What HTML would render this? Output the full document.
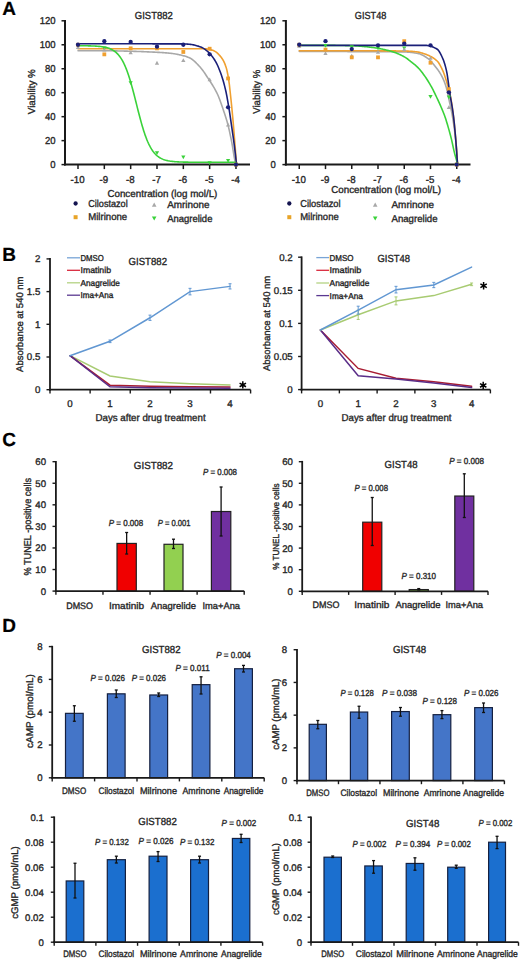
<!DOCTYPE html>
<html><head><meta charset="utf-8"><style>
html,body{margin:0;padding:0;background:#fff;}
svg{display:block;font-family:"Liberation Sans", sans-serif;}
text{stroke:#2a2a2a;stroke-width:0.35px;text-rendering:geometricPrecision;}
</style></head><body>
<svg width="520" height="960" viewBox="0 0 520 960" fill="#222">
<rect width="520" height="960" fill="#fff"/>
<text x="2.2" y="15.3" font-size="19" font-weight="bold" fill="#000" style="stroke:#000;stroke-width:0.2px">A</text>
<text x="2.2" y="260.6" font-size="19" font-weight="bold" fill="#000" style="stroke:#000;stroke-width:0.2px">B</text>
<text x="2.2" y="446.3" font-size="19" font-weight="bold" fill="#000" style="stroke:#000;stroke-width:0.2px">C</text>
<text x="2.2" y="631.8" font-size="19" font-weight="bold" fill="#000" style="stroke:#000;stroke-width:0.2px">D</text>
<line x1="65.00" y1="20.00" x2="65.00" y2="165.60" stroke="#1a1a1a" stroke-width="2" stroke-linecap="butt"/>
<line x1="61.50" y1="164.60" x2="65.00" y2="164.60" stroke="#1a1a1a" stroke-width="1.5" stroke-linecap="butt"/>
<text x="55.50" y="168.15" font-size="10.0" text-anchor="end" textLength="5.28" lengthAdjust="spacingAndGlyphs">0</text>
<line x1="61.50" y1="140.63" x2="65.00" y2="140.63" stroke="#1a1a1a" stroke-width="1.5" stroke-linecap="butt"/>
<text x="55.50" y="144.18" font-size="10.0" text-anchor="end" textLength="10.57" lengthAdjust="spacingAndGlyphs">20</text>
<line x1="61.50" y1="116.67" x2="65.00" y2="116.67" stroke="#1a1a1a" stroke-width="1.5" stroke-linecap="butt"/>
<text x="55.50" y="120.22" font-size="10.0" text-anchor="end" textLength="10.57" lengthAdjust="spacingAndGlyphs">40</text>
<line x1="61.50" y1="92.70" x2="65.00" y2="92.70" stroke="#1a1a1a" stroke-width="1.5" stroke-linecap="butt"/>
<text x="55.50" y="96.25" font-size="10.0" text-anchor="end" textLength="10.57" lengthAdjust="spacingAndGlyphs">60</text>
<line x1="61.50" y1="68.74" x2="65.00" y2="68.74" stroke="#1a1a1a" stroke-width="1.5" stroke-linecap="butt"/>
<text x="55.50" y="72.29" font-size="10.0" text-anchor="end" textLength="10.57" lengthAdjust="spacingAndGlyphs">80</text>
<line x1="61.50" y1="44.77" x2="65.00" y2="44.77" stroke="#1a1a1a" stroke-width="1.5" stroke-linecap="butt"/>
<text x="55.50" y="48.32" font-size="10.0" text-anchor="end" textLength="15.85" lengthAdjust="spacingAndGlyphs">100</text>
<line x1="61.50" y1="20.80" x2="65.00" y2="20.80" stroke="#1a1a1a" stroke-width="1.5" stroke-linecap="butt"/>
<text x="55.50" y="24.35" font-size="10.0" text-anchor="end" textLength="15.85" lengthAdjust="spacingAndGlyphs">120</text>
<line x1="64.00" y1="164.60" x2="250.00" y2="164.60" stroke="#1a1a1a" stroke-width="2" stroke-linecap="butt"/>
<line x1="78.00" y1="164.60" x2="78.00" y2="169.10" stroke="#1a1a1a" stroke-width="1.5" stroke-linecap="butt"/>
<text x="77.60" y="183.30" font-size="10.0" text-anchor="middle" textLength="14.02" lengthAdjust="spacingAndGlyphs">-10</text>
<line x1="104.33" y1="164.60" x2="104.33" y2="169.10" stroke="#1a1a1a" stroke-width="1.5" stroke-linecap="butt"/>
<text x="103.93" y="183.30" font-size="10.0" text-anchor="middle" textLength="8.62" lengthAdjust="spacingAndGlyphs">-9</text>
<line x1="130.66" y1="164.60" x2="130.66" y2="169.10" stroke="#1a1a1a" stroke-width="1.5" stroke-linecap="butt"/>
<text x="130.26" y="183.30" font-size="10.0" text-anchor="middle" textLength="8.62" lengthAdjust="spacingAndGlyphs">-8</text>
<line x1="156.99" y1="164.60" x2="156.99" y2="169.10" stroke="#1a1a1a" stroke-width="1.5" stroke-linecap="butt"/>
<text x="156.59" y="183.30" font-size="10.0" text-anchor="middle" textLength="8.62" lengthAdjust="spacingAndGlyphs">-7</text>
<line x1="183.32" y1="164.60" x2="183.32" y2="169.10" stroke="#1a1a1a" stroke-width="1.5" stroke-linecap="butt"/>
<text x="182.92" y="183.30" font-size="10.0" text-anchor="middle" textLength="8.62" lengthAdjust="spacingAndGlyphs">-6</text>
<line x1="209.65" y1="164.60" x2="209.65" y2="169.10" stroke="#1a1a1a" stroke-width="1.5" stroke-linecap="butt"/>
<text x="209.25" y="183.30" font-size="10.0" text-anchor="middle" textLength="8.62" lengthAdjust="spacingAndGlyphs">-5</text>
<line x1="235.98" y1="164.60" x2="235.98" y2="169.10" stroke="#1a1a1a" stroke-width="1.5" stroke-linecap="butt"/>
<text x="235.58" y="183.30" font-size="10.0" text-anchor="middle" textLength="8.62" lengthAdjust="spacingAndGlyphs">-4</text>
<text x="134.80" y="18.50" font-size="10.3" textLength="38.00" lengthAdjust="spacingAndGlyphs">GIST882</text>
<text x="107.40" y="196.80" font-size="10" textLength="110.00" lengthAdjust="spacingAndGlyphs">Concentration (log mol/L)</text>
<text x="34.60" y="91.70" font-size="10" text-anchor="middle" textLength="45.00" lengthAdjust="spacingAndGlyphs" transform="rotate(-90 34.60 91.70)">Viability %</text>
<polyline points="78.00,50.76 78.80,50.76 79.59,50.76 80.39,50.76 81.19,50.76 81.98,50.76 82.78,50.76 83.58,50.76 84.37,50.76 85.17,50.76 85.97,50.76 86.76,50.76 87.56,50.76 88.35,50.76 89.15,50.76 89.95,50.76 90.74,50.76 91.54,50.76 92.34,50.76 93.13,50.76 93.93,50.76 94.73,50.76 95.52,50.76 96.32,50.76 97.12,50.76 97.91,50.76 98.71,50.76 99.51,50.76 100.30,50.76 101.10,50.76 101.90,50.76 102.69,50.76 103.49,50.76 104.29,50.76 105.08,50.76 105.88,50.76 106.67,50.77 107.47,50.77 108.27,50.78 109.06,50.79 109.86,50.79 110.66,50.80 111.45,50.81 112.25,50.82 113.05,50.84 113.84,50.85 114.64,50.86 115.44,50.88 116.23,50.89 117.03,50.91 117.83,50.93 118.62,50.94 119.42,50.96 120.22,50.98 121.01,51.00 121.81,51.02 122.60,51.04 123.40,51.06 124.20,51.08 124.99,51.10 125.79,51.12 126.59,51.14 127.38,51.16 128.18,51.18 128.98,51.20 129.77,51.22 130.57,51.24 131.37,51.26 132.16,51.28 132.96,51.30 133.76,51.33 134.55,51.35 135.35,51.37 136.15,51.40 136.94,51.43 137.74,51.45 138.54,51.48 139.33,51.51 140.13,51.54 140.92,51.57 141.72,51.60 142.52,51.63 143.31,51.67 144.11,51.70 144.91,51.73 145.70,51.77 146.50,51.80 147.30,51.84 148.09,51.87 148.89,51.91 149.69,51.94 150.48,51.98 151.28,52.02 152.08,52.06 152.87,52.09 153.67,52.13 154.47,52.17 155.26,52.21 156.06,52.25 156.86,52.29 157.65,52.33 158.45,52.37 159.24,52.42 160.04,52.46 160.84,52.51 161.63,52.56 162.43,52.61 163.23,52.67 164.02,52.72 164.82,52.78 165.62,52.84 166.41,52.91 167.21,52.98 168.01,53.05 168.80,53.12 169.60,53.20 170.40,53.28 171.19,53.37 171.99,53.47 172.79,53.57 173.58,53.68 174.38,53.80 175.17,53.93 175.97,54.06 176.77,54.20 177.56,54.35 178.36,54.51 179.16,54.68 179.95,54.85 180.75,55.04 181.55,55.23 182.34,55.44 183.14,55.65 183.94,55.87 184.73,56.10 185.53,56.35 186.33,56.60 187.12,56.87 187.92,57.14 188.72,57.43 189.51,57.78 190.31,58.20 191.11,58.68 191.90,59.23 192.70,59.83 193.49,60.48 194.29,61.18 195.09,61.91 195.88,62.68 196.68,63.48 197.48,64.29 198.27,65.12 199.07,65.96 199.87,66.81 200.66,67.69 201.46,68.65 202.26,69.68 203.05,70.76 203.85,71.90 204.65,73.07 205.44,74.27 206.24,75.49 207.04,76.71 207.83,77.92 208.63,79.12 209.43,80.32 210.22,81.53 211.02,82.74 211.81,83.98 212.61,85.25 213.41,86.56 214.20,87.92 215.00,89.33 215.80,90.81 216.59,92.36 217.39,94.00 218.19,95.78 218.98,97.72 219.78,99.79 220.58,101.97 221.37,104.22 222.17,106.51 222.97,108.83 223.76,111.16 224.56,113.51 225.36,115.93 226.15,118.46 226.95,121.14 227.74,124.01 228.54,127.15 229.34,130.62 230.13,134.34 230.93,138.21 231.73,142.15 232.52,146.64 233.32,151.68 234.12,156.58 234.91,160.66 235.71,163.27 236.51,164.60" fill="none" stroke="#a8a8a8" stroke-width="1.6" stroke-linejoin="round" stroke-linecap="round"/>
<polyline points="78.00,48.72 78.80,48.72 79.59,48.72 80.39,48.72 81.19,48.72 81.98,48.72 82.78,48.72 83.58,48.72 84.37,48.72 85.17,48.72 85.97,48.72 86.76,48.72 87.56,48.72 88.35,48.72 89.15,48.72 89.95,48.72 90.74,48.72 91.54,48.72 92.34,48.72 93.13,48.72 93.93,48.72 94.73,48.72 95.52,48.72 96.32,48.72 97.12,48.72 97.91,48.72 98.71,48.72 99.51,48.72 100.30,48.72 101.10,48.72 101.90,48.72 102.69,48.72 103.49,48.72 104.29,48.72 105.08,48.72 105.88,48.72 106.67,48.72 107.47,48.72 108.27,48.72 109.06,48.72 109.86,48.72 110.66,48.72 111.45,48.72 112.25,48.72 113.05,48.72 113.84,48.72 114.64,48.72 115.44,48.72 116.23,48.72 117.03,48.72 117.83,48.72 118.62,48.72 119.42,48.72 120.22,48.72 121.01,48.72 121.81,48.72 122.60,48.72 123.40,48.72 124.20,48.72 124.99,48.72 125.79,48.72 126.59,48.72 127.38,48.72 128.18,48.72 128.98,48.72 129.77,48.72 130.57,48.72 131.37,48.72 132.16,48.72 132.96,48.72 133.76,48.72 134.55,48.72 135.35,48.72 136.15,48.72 136.94,48.72 137.74,48.72 138.54,48.72 139.33,48.72 140.13,48.72 140.92,48.72 141.72,48.72 142.52,48.72 143.31,48.72 144.11,48.72 144.91,48.72 145.70,48.72 146.50,48.72 147.30,48.72 148.09,48.72 148.89,48.72 149.69,48.72 150.48,48.72 151.28,48.72 152.08,48.72 152.87,48.72 153.67,48.72 154.47,48.72 155.26,48.72 156.06,48.72 156.86,48.72 157.65,48.72 158.45,48.72 159.24,48.72 160.04,48.72 160.84,48.72 161.63,48.72 162.43,48.72 163.23,48.72 164.02,48.72 164.82,48.72 165.62,48.72 166.41,48.72 167.21,48.72 168.01,48.72 168.80,48.72 169.60,48.72 170.40,48.72 171.19,48.72 171.99,48.72 172.79,48.72 173.58,48.72 174.38,48.72 175.17,48.72 175.97,48.72 176.77,48.72 177.56,48.72 178.36,48.72 179.16,48.72 179.95,48.72 180.75,48.72 181.55,48.72 182.34,48.72 183.14,48.72 183.94,48.72 184.73,48.72 185.53,48.72 186.33,48.72 187.12,48.72 187.92,48.72 188.72,48.72 189.51,48.72 190.31,48.72 191.11,48.72 191.90,48.72 192.70,48.72 193.49,48.72 194.29,48.72 195.09,48.72 195.88,48.72 196.68,48.72 197.48,48.72 198.27,48.72 199.07,48.72 199.87,48.72 200.66,48.72 201.46,48.72 202.26,48.72 203.05,48.72 203.85,48.72 204.65,48.74 205.44,48.79 206.24,48.88 207.04,48.98 207.83,49.12 208.63,49.28 209.43,49.46 210.22,49.66 211.02,49.88 211.81,50.11 212.61,50.36 213.41,50.61 214.20,50.92 215.00,51.34 215.80,51.85 216.59,52.46 217.39,53.14 218.19,53.91 218.98,54.74 219.78,55.63 220.58,56.57 221.37,57.56 222.17,58.67 222.97,59.96 223.76,61.45 224.56,63.17 225.36,65.14 226.15,67.40 226.95,70.40 227.74,74.26 228.54,78.81 229.34,84.34 230.13,91.47 230.93,99.03 231.73,106.80 232.52,115.11 233.32,124.15 234.12,133.87 234.91,143.84 235.71,154.06 236.51,164.60" fill="none" stroke="#f0a030" stroke-width="1.6" stroke-linejoin="round" stroke-linecap="round"/>
<polyline points="78.00,43.81 78.80,43.81 79.59,43.81 80.39,43.81 81.19,43.81 81.98,43.81 82.78,43.81 83.58,43.81 84.37,43.81 85.17,43.81 85.97,43.81 86.76,43.81 87.56,43.81 88.35,43.81 89.15,43.81 89.95,43.81 90.74,43.81 91.54,43.81 92.34,43.81 93.13,43.81 93.93,43.81 94.73,43.81 95.52,43.81 96.32,43.81 97.12,43.81 97.91,43.81 98.71,43.81 99.51,43.81 100.30,43.81 101.10,43.81 101.90,43.81 102.69,43.81 103.49,43.81 104.29,43.81 105.08,43.81 105.88,43.81 106.67,43.81 107.47,43.81 108.27,43.81 109.06,43.81 109.86,43.81 110.66,43.81 111.45,43.81 112.25,43.81 113.05,43.81 113.84,43.81 114.64,43.81 115.44,43.81 116.23,43.81 117.03,43.81 117.83,43.81 118.62,43.81 119.42,43.81 120.22,43.81 121.01,43.81 121.81,43.81 122.60,43.81 123.40,43.81 124.20,43.81 124.99,43.81 125.79,43.81 126.59,43.81 127.38,43.81 128.18,43.81 128.98,43.81 129.77,43.81 130.57,43.81 131.37,43.81 132.16,43.81 132.96,43.81 133.76,43.81 134.55,43.81 135.35,43.81 136.15,43.81 136.94,43.81 137.74,43.81 138.54,43.81 139.33,43.81 140.13,43.81 140.92,43.81 141.72,43.81 142.52,43.81 143.31,43.82 144.11,43.82 144.91,43.82 145.70,43.82 146.50,43.82 147.30,43.82 148.09,43.82 148.89,43.82 149.69,43.82 150.48,43.82 151.28,43.82 152.08,43.82 152.87,43.83 153.67,43.83 154.47,43.83 155.26,43.83 156.06,43.83 156.86,43.83 157.65,43.83 158.45,43.84 159.24,43.84 160.04,43.84 160.84,43.84 161.63,43.84 162.43,43.85 163.23,43.85 164.02,43.85 164.82,43.85 165.62,43.85 166.41,43.86 167.21,43.86 168.01,43.86 168.80,43.86 169.60,43.87 170.40,43.87 171.19,43.87 171.99,43.88 172.79,43.88 173.58,43.88 174.38,43.89 175.17,43.89 175.97,43.89 176.77,43.90 177.56,43.90 178.36,43.90 179.16,43.91 179.95,43.91 180.75,43.92 181.55,43.92 182.34,43.93 183.14,43.93 183.94,43.94 184.73,43.96 185.53,43.99 186.33,44.03 187.12,44.08 187.92,44.13 188.72,44.19 189.51,44.26 190.31,44.35 191.11,44.46 191.90,44.58 192.70,44.73 193.49,44.89 194.29,45.06 195.09,45.25 195.88,45.45 196.68,45.67 197.48,45.90 198.27,46.14 199.07,46.39 199.87,46.65 200.66,46.93 201.46,47.28 202.26,47.67 203.05,48.12 203.85,48.61 204.65,49.14 205.44,49.70 206.24,50.30 207.04,50.93 207.83,51.59 208.63,52.30 209.43,53.09 210.22,53.96 211.02,54.89 211.81,55.89 212.61,56.96 213.41,58.09 214.20,59.29 215.00,60.55 215.80,61.88 216.59,63.37 217.39,65.00 218.19,66.78 218.98,68.69 219.78,70.71 220.58,72.84 221.37,75.08 222.17,77.46 222.97,80.05 223.76,82.84 224.56,85.84 225.36,89.07 226.15,92.55 226.95,96.56 227.74,101.05 228.54,105.81 229.34,110.70 230.13,115.88 230.93,121.27 231.73,126.77 232.52,132.28 233.32,137.91 234.12,143.82 234.91,150.19 235.71,157.16 236.51,164.60" fill="none" stroke="#1a1f78" stroke-width="1.6" stroke-linejoin="round" stroke-linecap="round"/>
<polyline points="78.00,45.72 78.79,45.72 79.58,45.73 80.37,45.73 81.16,45.74 81.96,45.75 82.75,45.76 83.54,45.76 84.33,45.77 85.12,45.78 85.91,45.80 86.70,45.81 87.49,45.82 88.29,45.84 89.08,45.86 89.87,45.88 90.66,45.90 91.45,45.93 92.24,45.96 93.03,45.99 93.82,46.02 94.62,46.06 95.41,46.11 96.20,46.15 96.99,46.21 97.78,46.27 98.57,46.34 99.36,46.41 100.15,46.49 100.95,46.58 101.74,46.69 102.53,46.80 103.32,46.93 104.11,47.07 104.90,47.23 105.69,47.40 106.48,47.59 107.28,47.81 108.07,48.04 108.86,48.31 109.65,48.60 110.44,48.93 111.23,49.29 112.02,49.68 112.81,50.12 113.61,50.61 114.40,51.14 115.19,51.74 115.98,52.39 116.77,53.11 117.56,53.90 118.35,54.76 119.14,55.71 119.93,56.74 120.73,57.87 121.52,59.11 122.31,60.44 123.10,61.90 123.89,63.47 124.68,65.16 125.47,66.98 126.26,68.92 127.06,71.01 127.85,73.21 128.64,75.55 129.43,78.02 130.22,80.60 131.01,83.31 131.80,86.11 132.59,89.01 133.39,92.00 134.18,95.04 134.97,98.15 135.76,101.28 136.55,104.43 137.34,107.58 138.13,110.70 138.92,113.79 139.72,116.82 140.51,119.78 141.30,122.66 142.09,125.43 142.88,128.10 143.67,130.66 144.46,133.08 145.25,135.39 146.05,137.56 146.84,139.60 147.63,141.51 148.42,143.29 149.21,144.95 150.00,146.48 150.79,147.90 151.58,149.21 152.37,150.41 153.17,151.52 153.96,152.52 154.75,153.45 155.54,154.29 156.33,155.06 157.12,155.76 157.91,156.39 158.70,156.97 159.50,157.49 160.29,157.96 161.08,158.39 161.87,158.77 162.66,159.12 163.45,159.44 164.24,159.72 165.03,159.98 165.83,160.21 166.62,160.42 167.41,160.60 168.20,160.77 168.99,160.92 169.78,161.06 170.57,161.18 171.36,161.29 172.16,161.39 172.95,161.48 173.74,161.56 174.53,161.64 175.32,161.70 176.11,161.76 176.90,161.81 177.69,161.86 178.49,161.90 179.28,161.94 180.07,161.97 180.86,162.00 181.65,162.03 182.44,162.06 183.23,162.08 184.02,162.10 184.82,162.12 185.61,162.13 186.40,162.15 187.19,162.16 187.98,162.17 188.77,162.18 189.56,162.19 190.35,162.20 191.14,162.21 191.94,162.21 192.73,162.22 193.52,162.22 194.31,162.23 195.10,162.23 195.89,162.24 196.68,162.24 197.47,162.24 198.27,162.25 199.06,162.25 199.85,162.25 200.64,162.25 201.43,162.26 202.22,162.26 203.01,162.26 203.80,162.26 204.60,162.26 205.39,162.26 206.18,162.26 206.97,162.26 207.76,162.26 208.55,162.27 209.34,162.27 210.13,162.27 210.93,162.27 211.72,162.27 212.51,162.27 213.30,162.27 214.09,162.27 214.88,162.27 215.67,162.27 216.46,162.27 217.26,162.27 218.05,162.27 218.84,162.27 219.63,162.27 220.42,162.27 221.21,162.27 222.00,162.27 222.79,162.27 223.59,162.27 224.38,162.27 225.17,162.27 225.96,162.27 226.75,162.27 227.54,162.27 228.33,162.27 229.12,162.27 229.91,162.27 230.71,162.27 231.50,162.27 232.29,162.27 233.08,162.27 233.87,162.27 234.66,162.27 235.45,162.27" fill="none" stroke="#3ad23a" stroke-width="1.6" stroke-linejoin="round" stroke-linecap="round"/>
<polygon points="75.90,44.08 80.10,44.08 78.00,47.86" fill="#3ad23a"/>
<polygon points="102.23,46.47 106.43,46.47 104.33,50.25" fill="#3ad23a"/>
<polygon points="128.56,81.23 132.76,81.23 130.66,85.01" fill="#3ad23a"/>
<polygon points="154.89,151.33 159.09,151.33 156.99,155.11" fill="#3ad23a"/>
<polygon points="181.22,155.40 185.42,155.40 183.32,159.18" fill="#3ad23a"/>
<polygon points="207.55,161.15 211.75,161.15 209.65,164.93" fill="#3ad23a"/>
<polygon points="225.98,158.88 230.18,158.88 228.08,162.66" fill="#3ad23a"/>
<polygon points="233.88,162.71 238.08,162.71 235.98,166.49" fill="#3ad23a"/>
<polygon points="75.90,49.06 80.10,49.06 78.00,45.28" fill="#a8a8a8"/>
<polygon points="102.23,51.45 106.43,51.45 104.33,47.67" fill="#a8a8a8"/>
<polygon points="128.56,54.21 132.76,54.21 130.66,50.43" fill="#a8a8a8"/>
<polygon points="154.89,64.63 159.09,64.63 156.99,60.85" fill="#a8a8a8"/>
<polygon points="181.22,62.12 185.42,62.12 183.32,58.34" fill="#a8a8a8"/>
<polygon points="207.55,81.29 211.75,81.29 209.65,77.51" fill="#a8a8a8"/>
<polygon points="225.98,126.47 230.18,126.47 228.08,122.69" fill="#a8a8a8"/>
<polygon points="233.88,166.49 238.08,166.49 235.98,162.71" fill="#a8a8a8"/>
<rect x="76.10" y="42.87" width="3.80" height="3.80" fill="#f0a030"/>
<rect x="102.43" y="52.46" width="3.80" height="3.80" fill="#f0a030"/>
<rect x="128.76" y="46.46" width="3.80" height="3.80" fill="#f0a030"/>
<rect x="155.09" y="46.46" width="3.80" height="3.80" fill="#f0a030"/>
<rect x="181.42" y="50.06" width="3.80" height="3.80" fill="#f0a030"/>
<rect x="207.75" y="46.82" width="3.80" height="3.80" fill="#f0a030"/>
<rect x="226.18" y="76.54" width="3.80" height="3.80" fill="#f0a030"/>
<rect x="234.08" y="162.70" width="3.80" height="3.80" fill="#f0a030"/>
<circle cx="78.00" cy="44.77" r="2.15" fill="#1a1f78"/>
<circle cx="104.33" cy="41.18" r="2.15" fill="#1a1f78"/>
<circle cx="130.66" cy="41.89" r="2.15" fill="#1a1f78"/>
<circle cx="156.99" cy="46.69" r="2.15" fill="#1a1f78"/>
<circle cx="183.32" cy="44.77" r="2.15" fill="#1a1f78"/>
<circle cx="209.65" cy="54.36" r="2.15" fill="#1a1f78"/>
<circle cx="228.08" cy="107.32" r="2.15" fill="#1a1f78"/>
<circle cx="235.98" cy="164.60" r="2.15" fill="#1a1f78"/>
<circle cx="75.60" cy="203.50" r="2.15" fill="#141450"/>
<text x="88.20" y="207.20" font-size="10" textLength="39.50" lengthAdjust="spacingAndGlyphs">Cilostazol</text>
<rect x="73.60" y="215.20" width="4.00" height="4.00" fill="#e8a428"/>
<text x="88.20" y="220.10" font-size="10" textLength="39.00" lengthAdjust="spacingAndGlyphs">Milrinone</text>
<polygon points="151.90,206.67 156.50,206.67 154.20,202.53" fill="#a8a8a8"/>
<text x="167.20" y="208.20" font-size="10" textLength="42.40" lengthAdjust="spacingAndGlyphs">Amrinone</text>
<polygon points="151.90,216.43 156.50,216.43 154.20,220.57" fill="#3ad23a"/>
<text x="167.20" y="222.10" font-size="10" textLength="45.20" lengthAdjust="spacingAndGlyphs">Anagrelide</text>
<line x1="285.90" y1="20.00" x2="285.90" y2="165.60" stroke="#1a1a1a" stroke-width="2" stroke-linecap="butt"/>
<line x1="282.40" y1="164.60" x2="285.90" y2="164.60" stroke="#1a1a1a" stroke-width="1.5" stroke-linecap="butt"/>
<text x="275.90" y="168.15" font-size="10.0" text-anchor="end" textLength="5.28" lengthAdjust="spacingAndGlyphs">0</text>
<line x1="282.40" y1="140.63" x2="285.90" y2="140.63" stroke="#1a1a1a" stroke-width="1.5" stroke-linecap="butt"/>
<text x="275.90" y="144.18" font-size="10.0" text-anchor="end" textLength="10.57" lengthAdjust="spacingAndGlyphs">20</text>
<line x1="282.40" y1="116.67" x2="285.90" y2="116.67" stroke="#1a1a1a" stroke-width="1.5" stroke-linecap="butt"/>
<text x="275.90" y="120.22" font-size="10.0" text-anchor="end" textLength="10.57" lengthAdjust="spacingAndGlyphs">40</text>
<line x1="282.40" y1="92.70" x2="285.90" y2="92.70" stroke="#1a1a1a" stroke-width="1.5" stroke-linecap="butt"/>
<text x="275.90" y="96.25" font-size="10.0" text-anchor="end" textLength="10.57" lengthAdjust="spacingAndGlyphs">60</text>
<line x1="282.40" y1="68.74" x2="285.90" y2="68.74" stroke="#1a1a1a" stroke-width="1.5" stroke-linecap="butt"/>
<text x="275.90" y="72.29" font-size="10.0" text-anchor="end" textLength="10.57" lengthAdjust="spacingAndGlyphs">80</text>
<line x1="282.40" y1="44.77" x2="285.90" y2="44.77" stroke="#1a1a1a" stroke-width="1.5" stroke-linecap="butt"/>
<text x="275.90" y="48.32" font-size="10.0" text-anchor="end" textLength="15.85" lengthAdjust="spacingAndGlyphs">100</text>
<line x1="282.40" y1="20.80" x2="285.90" y2="20.80" stroke="#1a1a1a" stroke-width="1.5" stroke-linecap="butt"/>
<text x="275.90" y="24.35" font-size="10.0" text-anchor="end" textLength="15.85" lengthAdjust="spacingAndGlyphs">120</text>
<line x1="284.90" y1="164.60" x2="470.50" y2="164.60" stroke="#1a1a1a" stroke-width="2" stroke-linecap="butt"/>
<line x1="299.25" y1="164.60" x2="299.25" y2="169.10" stroke="#1a1a1a" stroke-width="1.5" stroke-linecap="butt"/>
<text x="298.85" y="183.30" font-size="10.0" text-anchor="middle" textLength="14.02" lengthAdjust="spacingAndGlyphs">-10</text>
<line x1="325.50" y1="164.60" x2="325.50" y2="169.10" stroke="#1a1a1a" stroke-width="1.5" stroke-linecap="butt"/>
<text x="325.10" y="183.30" font-size="10.0" text-anchor="middle" textLength="8.62" lengthAdjust="spacingAndGlyphs">-9</text>
<line x1="351.75" y1="164.60" x2="351.75" y2="169.10" stroke="#1a1a1a" stroke-width="1.5" stroke-linecap="butt"/>
<text x="351.35" y="183.30" font-size="10.0" text-anchor="middle" textLength="8.62" lengthAdjust="spacingAndGlyphs">-8</text>
<line x1="378.00" y1="164.60" x2="378.00" y2="169.10" stroke="#1a1a1a" stroke-width="1.5" stroke-linecap="butt"/>
<text x="377.60" y="183.30" font-size="10.0" text-anchor="middle" textLength="8.62" lengthAdjust="spacingAndGlyphs">-7</text>
<line x1="404.25" y1="164.60" x2="404.25" y2="169.10" stroke="#1a1a1a" stroke-width="1.5" stroke-linecap="butt"/>
<text x="403.85" y="183.30" font-size="10.0" text-anchor="middle" textLength="8.62" lengthAdjust="spacingAndGlyphs">-6</text>
<line x1="430.50" y1="164.60" x2="430.50" y2="169.10" stroke="#1a1a1a" stroke-width="1.5" stroke-linecap="butt"/>
<text x="430.10" y="183.30" font-size="10.0" text-anchor="middle" textLength="8.62" lengthAdjust="spacingAndGlyphs">-5</text>
<line x1="456.75" y1="164.60" x2="456.75" y2="169.10" stroke="#1a1a1a" stroke-width="1.5" stroke-linecap="butt"/>
<text x="456.35" y="183.30" font-size="10.0" text-anchor="middle" textLength="8.62" lengthAdjust="spacingAndGlyphs">-4</text>
<text x="354.80" y="18.50" font-size="10.3" textLength="31.50" lengthAdjust="spacingAndGlyphs">GIST48</text>
<text x="331.20" y="193.00" font-size="10" textLength="109.80" lengthAdjust="spacingAndGlyphs">Concentration (log mol/L)</text>
<text x="260.40" y="91.67" font-size="10" text-anchor="middle" textLength="44.15" lengthAdjust="spacingAndGlyphs" transform="rotate(-90 260.40 91.67)">Viability %</text>
<polyline points="299.25,51.36 300.05,51.36 300.84,51.37 301.64,51.37 302.43,51.37 303.23,51.37 304.02,51.38 304.82,51.38 305.61,51.38 306.41,51.39 307.20,51.39 308.00,51.39 308.79,51.40 309.59,51.40 310.39,51.40 311.18,51.41 311.98,51.41 312.77,51.41 313.57,51.41 314.36,51.42 315.16,51.42 315.95,51.42 316.75,51.43 317.54,51.43 318.34,51.43 319.14,51.44 319.93,51.44 320.73,51.45 321.52,51.45 322.32,51.45 323.11,51.46 323.91,51.46 324.70,51.46 325.50,51.47 326.29,51.47 327.09,51.47 327.88,51.48 328.68,51.48 329.48,51.49 330.27,51.49 331.07,51.49 331.86,51.50 332.66,51.50 333.45,51.50 334.25,51.51 335.04,51.51 335.84,51.52 336.63,51.52 337.43,51.52 338.23,51.53 339.02,51.53 339.82,51.54 340.61,51.54 341.41,51.55 342.20,51.55 343.00,51.55 343.79,51.56 344.59,51.56 345.38,51.57 346.18,51.57 346.97,51.57 347.77,51.58 348.57,51.58 349.36,51.59 350.16,51.59 350.95,51.60 351.75,51.60 352.54,51.60 353.34,51.61 354.13,51.61 354.93,51.62 355.72,51.62 356.52,51.62 357.32,51.63 358.11,51.63 358.91,51.63 359.70,51.64 360.50,51.64 361.29,51.64 362.09,51.65 362.88,51.65 363.68,51.65 364.47,51.66 365.27,51.66 366.06,51.66 366.86,51.67 367.66,51.67 368.45,51.67 369.25,51.68 370.04,51.68 370.84,51.68 371.63,51.68 372.43,51.69 373.22,51.69 374.02,51.70 374.81,51.70 375.61,51.70 376.41,51.71 377.20,51.71 378.00,51.71 378.79,51.72 379.59,51.72 380.38,51.73 381.18,51.73 381.97,51.74 382.77,51.74 383.56,51.74 384.36,51.75 385.15,51.76 385.95,51.76 386.75,51.77 387.54,51.77 388.34,51.78 389.13,51.78 389.93,51.79 390.72,51.80 391.52,51.81 392.31,51.81 393.11,51.82 393.90,51.83 394.70,51.84 395.50,51.84 396.29,51.85 397.09,51.86 397.88,51.87 398.68,51.88 399.47,51.89 400.27,51.90 401.06,51.91 401.86,51.92 402.65,51.94 403.45,51.95 404.24,51.96 405.04,51.98 405.84,52.01 406.63,52.04 407.43,52.09 408.22,52.15 409.02,52.22 409.81,52.29 410.61,52.38 411.40,52.47 412.20,52.57 412.99,52.68 413.79,52.79 414.59,52.92 415.38,53.05 416.18,53.18 416.97,53.32 417.77,53.47 418.56,53.64 419.36,53.85 420.15,54.11 420.95,54.42 421.74,54.77 422.54,55.16 423.33,55.58 424.13,56.02 424.93,56.50 425.72,57.00 426.52,57.52 427.31,58.05 428.11,58.61 428.90,59.25 429.70,59.97 430.49,60.77 431.29,61.62 432.08,62.52 432.88,63.46 433.68,64.42 434.47,65.40 435.27,66.39 436.06,67.39 436.86,68.41 437.65,69.48 438.45,70.61 439.24,71.80 440.04,73.07 440.83,74.43 441.63,75.88 442.42,77.43 443.22,79.09 444.02,80.92 444.81,82.94 445.61,85.18 446.40,87.79 447.20,91.15 447.99,94.92 448.79,98.66 449.58,102.23 450.38,105.81 451.17,109.58 451.97,113.70 452.77,118.32 453.56,123.25 454.36,128.65 455.15,134.83 455.95,142.10 456.74,151.12 457.54,164.60" fill="none" stroke="#a8a8a8" stroke-width="1.6" stroke-linejoin="round" stroke-linecap="round"/>
<polyline points="299.25,50.76 300.05,50.76 300.84,50.76 301.64,50.76 302.43,50.76 303.23,50.76 304.02,50.76 304.82,50.76 305.61,50.76 306.41,50.76 307.20,50.76 308.00,50.76 308.79,50.76 309.59,50.76 310.39,50.76 311.18,50.76 311.98,50.76 312.77,50.76 313.57,50.76 314.36,50.76 315.16,50.76 315.95,50.76 316.75,50.76 317.54,50.76 318.34,50.76 319.14,50.76 319.93,50.76 320.73,50.76 321.52,50.76 322.32,50.76 323.11,50.76 323.91,50.76 324.70,50.76 325.50,50.76 326.29,50.76 327.09,50.76 327.88,50.76 328.68,50.76 329.48,50.76 330.27,50.76 331.07,50.76 331.86,50.76 332.66,50.76 333.45,50.76 334.25,50.76 335.04,50.76 335.84,50.76 336.63,50.76 337.43,50.76 338.23,50.76 339.02,50.76 339.82,50.76 340.61,50.76 341.41,50.76 342.20,50.76 343.00,50.76 343.79,50.76 344.59,50.76 345.38,50.76 346.18,50.76 346.97,50.76 347.77,50.76 348.57,50.76 349.36,50.76 350.16,50.76 350.95,50.76 351.75,50.76 352.54,50.76 353.34,50.76 354.13,50.76 354.93,50.76 355.72,50.76 356.52,50.76 357.32,50.76 358.11,50.76 358.91,50.76 359.70,50.77 360.50,50.77 361.29,50.77 362.09,50.77 362.88,50.77 363.68,50.77 364.47,50.77 365.27,50.77 366.06,50.78 366.86,50.78 367.66,50.78 368.45,50.78 369.25,50.78 370.04,50.79 370.84,50.79 371.63,50.79 372.43,50.79 373.22,50.79 374.02,50.80 374.81,50.80 375.61,50.80 376.41,50.81 377.20,50.81 378.00,50.81 378.79,50.82 379.59,50.82 380.38,50.82 381.18,50.83 381.97,50.83 382.77,50.84 383.56,50.84 384.36,50.84 385.15,50.85 385.95,50.85 386.75,50.86 387.54,50.86 388.34,50.87 389.13,50.87 389.93,50.88 390.72,50.88 391.52,50.89 392.31,50.90 393.11,50.90 393.90,50.91 394.70,50.91 395.50,50.92 396.29,50.93 397.09,50.93 397.88,50.94 398.68,50.95 399.47,50.95 400.27,50.96 401.06,50.97 401.86,50.98 402.65,50.98 403.45,50.99 404.24,51.00 405.04,51.01 405.84,51.03 406.63,51.06 407.43,51.09 408.22,51.13 409.02,51.18 409.81,51.23 410.61,51.28 411.40,51.35 412.20,51.41 412.99,51.49 413.79,51.56 414.59,51.64 415.38,51.73 416.18,51.82 416.97,51.91 417.77,52.01 418.56,52.14 419.36,52.29 420.15,52.47 420.95,52.67 421.74,52.90 422.54,53.14 423.33,53.41 424.13,53.69 424.93,53.98 425.72,54.28 426.52,54.60 427.31,54.92 428.11,55.25 428.90,55.59 429.70,55.96 430.49,56.35 431.29,56.77 432.08,57.21 432.88,57.70 433.68,58.22 434.47,58.78 435.27,59.39 436.06,60.05 436.86,60.77 437.65,61.55 438.45,62.54 439.24,63.72 440.04,65.07 440.83,66.57 441.63,68.17 442.42,69.87 443.22,71.65 444.02,73.70 444.81,75.98 445.61,78.45 446.40,81.04 447.20,83.68 447.99,86.35 448.79,89.18 449.58,92.29 450.38,95.81 451.17,99.93 451.97,104.88 452.77,110.63 453.56,117.14 454.36,124.31 455.15,132.38 455.95,141.97 456.74,152.82 457.54,164.60" fill="none" stroke="#f0a030" stroke-width="1.6" stroke-linejoin="round" stroke-linecap="round"/>
<polyline points="299.25,45.37 300.05,45.37 300.84,45.37 301.64,45.37 302.44,45.37 303.23,45.37 304.03,45.37 304.83,45.37 305.62,45.37 306.42,45.37 307.22,45.37 308.01,45.37 308.81,45.37 309.61,45.37 310.40,45.37 311.20,45.37 312.00,45.37 312.79,45.37 313.59,45.37 314.39,45.37 315.18,45.37 315.98,45.37 316.78,45.37 317.57,45.37 318.37,45.37 319.17,45.37 319.97,45.37 320.76,45.37 321.56,45.37 322.36,45.37 323.15,45.37 323.95,45.37 324.75,45.37 325.54,45.37 326.34,45.37 327.14,45.37 327.93,45.37 328.73,45.38 329.53,45.38 330.32,45.38 331.12,45.39 331.92,45.39 332.71,45.40 333.51,45.41 334.31,45.42 335.10,45.42 335.90,45.43 336.70,45.44 337.49,45.45 338.29,45.46 339.09,45.48 339.88,45.49 340.68,45.50 341.48,45.51 342.27,45.53 343.07,45.54 343.87,45.56 344.66,45.57 345.46,45.59 346.26,45.60 347.05,45.62 347.85,45.64 348.65,45.66 349.44,45.67 350.24,45.69 351.04,45.71 351.83,45.73 352.63,45.75 353.43,45.78 354.22,45.81 355.02,45.85 355.82,45.89 356.61,45.94 357.41,45.99 358.21,46.04 359.01,46.10 359.80,46.16 360.60,46.22 361.40,46.29 362.19,46.36 362.99,46.43 363.79,46.51 364.58,46.58 365.38,46.66 366.18,46.74 366.97,46.83 367.77,46.91 368.57,47.00 369.36,47.08 370.16,47.17 370.96,47.26 371.75,47.36 372.55,47.46 373.35,47.57 374.14,47.68 374.94,47.80 375.74,47.92 376.53,48.05 377.33,48.18 378.13,48.32 378.92,48.46 379.72,48.61 380.52,48.76 381.31,48.92 382.11,49.08 382.91,49.25 383.70,49.42 384.50,49.60 385.30,49.78 386.09,49.97 386.89,50.16 387.69,50.36 388.48,50.56 389.28,50.76 390.08,50.97 390.87,51.20 391.67,51.43 392.47,51.68 393.26,51.95 394.06,52.22 394.86,52.50 395.65,52.80 396.45,53.11 397.25,53.43 398.04,53.76 398.84,54.11 399.64,54.46 400.44,54.83 401.23,55.21 402.03,55.60 402.83,56.01 403.62,56.42 404.42,56.85 405.22,57.32 406.01,57.84 406.81,58.41 407.61,59.01 408.40,59.63 409.20,60.26 410.00,60.90 410.79,61.53 411.59,62.15 412.39,62.77 413.18,63.40 413.98,64.04 414.78,64.69 415.57,65.37 416.37,66.08 417.17,66.82 417.96,67.60 418.76,68.44 419.56,69.33 420.35,70.28 421.15,71.26 421.95,72.28 422.74,73.34 423.54,74.42 424.34,75.52 425.13,76.65 425.93,77.81 426.73,79.01 427.52,80.25 428.32,81.52 429.12,82.83 429.91,84.18 430.71,85.56 431.51,86.98 432.30,88.46 433.10,89.99 433.90,91.56 434.69,93.18 435.49,94.84 436.29,96.52 437.08,98.23 437.88,99.96 438.68,101.69 439.48,103.43 440.27,105.20 441.07,106.99 441.87,108.84 442.66,110.74 443.46,112.73 444.26,114.81 445.05,116.99 445.85,119.36 446.65,121.91 447.44,124.59 448.24,127.35 449.04,130.14 449.83,133.00 450.63,135.98 451.43,139.13 452.22,142.64 453.02,146.44 453.82,150.12 454.61,153.34 455.41,156.29 456.21,159.10 457.00,161.89 457.80,164.60" fill="none" stroke="#3ad23a" stroke-width="1.6" stroke-linejoin="round" stroke-linecap="round"/>
<polyline points="299.25,45.37 300.05,45.37 300.84,45.37 301.64,45.37 302.43,45.37 303.23,45.37 304.02,45.37 304.82,45.37 305.61,45.37 306.41,45.37 307.20,45.37 308.00,45.37 308.79,45.37 309.59,45.37 310.39,45.37 311.18,45.37 311.98,45.37 312.77,45.37 313.57,45.37 314.36,45.37 315.16,45.37 315.95,45.37 316.75,45.37 317.54,45.37 318.34,45.37 319.14,45.37 319.93,45.37 320.73,45.37 321.52,45.37 322.32,45.37 323.11,45.37 323.91,45.37 324.70,45.37 325.50,45.37 326.29,45.37 327.09,45.37 327.88,45.37 328.68,45.37 329.48,45.37 330.27,45.37 331.07,45.37 331.86,45.37 332.66,45.37 333.45,45.37 334.25,45.37 335.04,45.37 335.84,45.37 336.63,45.37 337.43,45.37 338.23,45.37 339.02,45.37 339.82,45.37 340.61,45.37 341.41,45.37 342.20,45.37 343.00,45.37 343.79,45.37 344.59,45.37 345.38,45.37 346.18,45.37 346.97,45.37 347.77,45.37 348.57,45.37 349.36,45.37 350.16,45.37 350.95,45.37 351.75,45.37 352.54,45.37 353.34,45.37 354.13,45.37 354.93,45.37 355.72,45.37 356.52,45.37 357.32,45.37 358.11,45.37 358.91,45.37 359.70,45.37 360.50,45.37 361.29,45.37 362.09,45.37 362.88,45.37 363.68,45.37 364.47,45.37 365.27,45.37 366.06,45.37 366.86,45.37 367.66,45.37 368.45,45.37 369.25,45.37 370.04,45.37 370.84,45.37 371.63,45.37 372.43,45.37 373.22,45.37 374.02,45.37 374.81,45.37 375.61,45.37 376.41,45.37 377.20,45.37 378.00,45.37 378.79,45.37 379.59,45.37 380.38,45.37 381.18,45.37 381.97,45.37 382.77,45.37 383.56,45.37 384.36,45.37 385.15,45.37 385.95,45.37 386.75,45.37 387.54,45.37 388.34,45.37 389.13,45.37 389.93,45.37 390.72,45.37 391.52,45.37 392.31,45.37 393.11,45.37 393.90,45.37 394.70,45.37 395.50,45.37 396.29,45.37 397.09,45.37 397.88,45.37 398.68,45.37 399.47,45.37 400.27,45.37 401.06,45.37 401.86,45.37 402.65,45.37 403.45,45.37 404.24,45.37 405.04,45.37 405.84,45.37 406.63,45.37 407.43,45.37 408.22,45.37 409.02,45.37 409.81,45.37 410.61,45.37 411.40,45.37 412.20,45.37 412.99,45.37 413.79,45.37 414.59,45.37 415.38,45.37 416.18,45.37 416.97,45.37 417.77,45.37 418.56,45.37 419.36,45.37 420.15,45.37 420.95,45.37 421.74,45.37 422.54,45.37 423.33,45.37 424.13,45.37 424.93,45.37 425.72,45.38 426.52,45.42 427.31,45.50 428.11,45.62 428.90,45.77 429.70,45.95 430.49,46.17 431.29,46.42 432.08,46.70 432.88,47.02 433.68,47.35 434.47,47.72 435.27,48.11 436.06,48.53 436.86,48.97 437.65,49.51 438.45,50.36 439.24,51.47 440.04,52.80 440.83,54.32 441.63,55.98 442.42,57.73 443.22,59.58 444.02,61.72 444.81,64.22 445.61,67.10 446.40,70.40 447.20,74.35 447.99,79.78 448.79,85.92 449.58,91.81 450.38,96.83 451.17,101.41 451.97,105.98 452.77,111.01 453.56,116.94 454.36,124.18 455.15,132.74 455.95,142.44 456.74,153.12 457.54,164.60" fill="none" stroke="#1a1f78" stroke-width="1.6" stroke-linejoin="round" stroke-linecap="round"/>
<polygon points="297.15,44.08 301.35,44.08 299.25,47.86" fill="#3ad23a"/>
<polygon points="323.40,44.08 327.60,44.08 325.50,47.86" fill="#3ad23a"/>
<polygon points="349.65,45.28 353.85,45.28 351.75,49.06" fill="#3ad23a"/>
<polygon points="375.90,46.47 380.10,46.47 378.00,50.25" fill="#3ad23a"/>
<polygon points="402.15,46.47 406.35,46.47 404.25,50.25" fill="#3ad23a"/>
<polygon points="428.40,95.01 432.60,95.01 430.50,98.79" fill="#3ad23a"/>
<polygon points="446.77,95.61 450.98,95.61 448.88,99.39" fill="#3ad23a"/>
<polygon points="454.65,162.71 458.85,162.71 456.75,166.49" fill="#3ad23a"/>
<polygon points="297.15,47.86 301.35,47.86 299.25,44.08" fill="#a8a8a8"/>
<polygon points="323.40,55.05 327.60,55.05 325.50,51.27" fill="#a8a8a8"/>
<polygon points="349.65,57.44 353.85,57.44 351.75,53.66" fill="#a8a8a8"/>
<polygon points="375.90,53.85 380.10,53.85 378.00,50.07" fill="#a8a8a8"/>
<polygon points="402.15,51.09 406.35,51.09 404.25,47.31" fill="#a8a8a8"/>
<polygon points="428.40,59.84 432.60,59.84 430.50,56.06" fill="#a8a8a8"/>
<polygon points="446.77,108.97 450.98,108.97 448.88,105.19" fill="#a8a8a8"/>
<polygon points="454.65,166.49 458.85,166.49 456.75,162.71" fill="#a8a8a8"/>
<rect x="297.35" y="42.87" width="3.80" height="3.80" fill="#f0a030"/>
<rect x="323.60" y="47.66" width="3.80" height="3.80" fill="#f0a030"/>
<rect x="349.85" y="55.45" width="3.80" height="3.80" fill="#f0a030"/>
<rect x="376.10" y="55.45" width="3.80" height="3.80" fill="#f0a030"/>
<rect x="402.35" y="39.28" width="3.80" height="3.80" fill="#f0a030"/>
<rect x="428.60" y="60.84" width="3.80" height="3.80" fill="#f0a030"/>
<rect x="446.98" y="87.21" width="3.80" height="3.80" fill="#f0a030"/>
<rect x="454.85" y="162.70" width="3.80" height="3.80" fill="#f0a030"/>
<circle cx="299.25" cy="44.77" r="2.15" fill="#1a1f78"/>
<circle cx="325.50" cy="41.18" r="2.15" fill="#1a1f78"/>
<circle cx="351.75" cy="49.08" r="2.15" fill="#1a1f78"/>
<circle cx="378.00" cy="45.37" r="2.15" fill="#1a1f78"/>
<circle cx="404.25" cy="43.57" r="2.15" fill="#1a1f78"/>
<circle cx="430.50" cy="45.37" r="2.15" fill="#1a1f78"/>
<circle cx="448.88" cy="92.34" r="2.15" fill="#1a1f78"/>
<circle cx="456.75" cy="164.60" r="2.15" fill="#1a1f78"/>
<circle cx="289.30" cy="203.50" r="2.15" fill="#141450"/>
<text x="300.20" y="207.20" font-size="10" textLength="40.40" lengthAdjust="spacingAndGlyphs">Cilostazol</text>
<rect x="287.30" y="215.20" width="4.00" height="4.00" fill="#e8a428"/>
<text x="300.20" y="220.10" font-size="10" textLength="38.50" lengthAdjust="spacingAndGlyphs">Milrinone</text>
<polygon points="372.90,206.67 377.50,206.67 375.20,202.53" fill="#a8a8a8"/>
<text x="391.50" y="208.20" font-size="10" textLength="42.50" lengthAdjust="spacingAndGlyphs">Amrinone</text>
<polygon points="372.90,216.43 377.50,216.43 375.20,220.57" fill="#3ad23a"/>
<text x="391.50" y="222.10" font-size="10" textLength="46.00" lengthAdjust="spacingAndGlyphs">Anagrelide</text>
<line x1="50.00" y1="258.10" x2="50.00" y2="390.70" stroke="#1a1a1a" stroke-width="1.8" stroke-linecap="butt"/>
<line x1="46.50" y1="389.70" x2="50.00" y2="389.70" stroke="#1a1a1a" stroke-width="1.4" stroke-linecap="butt"/>
<text x="40.30" y="393.15" font-size="9.8" text-anchor="end" textLength="5.40" lengthAdjust="spacingAndGlyphs">0</text>
<line x1="46.50" y1="357.00" x2="50.00" y2="357.00" stroke="#1a1a1a" stroke-width="1.4" stroke-linecap="butt"/>
<text x="40.30" y="360.45" font-size="9.8" text-anchor="end" textLength="13.49" lengthAdjust="spacingAndGlyphs">0.5</text>
<line x1="46.50" y1="324.30" x2="50.00" y2="324.30" stroke="#1a1a1a" stroke-width="1.4" stroke-linecap="butt"/>
<text x="40.30" y="327.75" font-size="9.8" text-anchor="end" textLength="5.40" lengthAdjust="spacingAndGlyphs">1</text>
<line x1="46.50" y1="291.60" x2="50.00" y2="291.60" stroke="#1a1a1a" stroke-width="1.4" stroke-linecap="butt"/>
<text x="40.30" y="295.05" font-size="9.8" text-anchor="end" textLength="13.49" lengthAdjust="spacingAndGlyphs">1.5</text>
<line x1="46.50" y1="258.90" x2="50.00" y2="258.90" stroke="#1a1a1a" stroke-width="1.4" stroke-linecap="butt"/>
<text x="40.30" y="262.35" font-size="9.8" text-anchor="end" textLength="5.40" lengthAdjust="spacingAndGlyphs">2</text>
<line x1="49.00" y1="389.70" x2="250.60" y2="389.70" stroke="#1a1a1a" stroke-width="1.8" stroke-linecap="butt"/>
<line x1="50.00" y1="389.70" x2="50.00" y2="393.50" stroke="#1a1a1a" stroke-width="1.4" stroke-linecap="butt"/>
<line x1="90.12" y1="389.70" x2="90.12" y2="393.50" stroke="#1a1a1a" stroke-width="1.4" stroke-linecap="butt"/>
<line x1="130.24" y1="389.70" x2="130.24" y2="393.50" stroke="#1a1a1a" stroke-width="1.4" stroke-linecap="butt"/>
<line x1="170.36" y1="389.70" x2="170.36" y2="393.50" stroke="#1a1a1a" stroke-width="1.4" stroke-linecap="butt"/>
<line x1="210.48" y1="389.70" x2="210.48" y2="393.50" stroke="#1a1a1a" stroke-width="1.4" stroke-linecap="butt"/>
<line x1="250.60" y1="389.70" x2="250.60" y2="393.50" stroke="#1a1a1a" stroke-width="1.4" stroke-linecap="butt"/>
<text x="70.00" y="406.70" font-size="9.8" text-anchor="middle" textLength="5.40" lengthAdjust="spacingAndGlyphs">0</text>
<text x="110.00" y="406.70" font-size="9.8" text-anchor="middle" textLength="5.40" lengthAdjust="spacingAndGlyphs">1</text>
<text x="150.00" y="406.70" font-size="9.8" text-anchor="middle" textLength="5.40" lengthAdjust="spacingAndGlyphs">2</text>
<text x="190.00" y="406.70" font-size="9.8" text-anchor="middle" textLength="5.40" lengthAdjust="spacingAndGlyphs">3</text>
<text x="230.00" y="406.70" font-size="9.8" text-anchor="middle" textLength="5.40" lengthAdjust="spacingAndGlyphs">4</text>
<text x="95.50" y="421.20" font-size="10" textLength="110.10" lengthAdjust="spacingAndGlyphs">Days after drug treatment</text>
<text x="22.90" y="324.20" font-size="9.6" text-anchor="middle" textLength="95.40" lengthAdjust="spacingAndGlyphs" transform="rotate(-90 22.90 324.20)">Absorbance at 540 nm</text>
<line x1="67.00" y1="257.80" x2="80.00" y2="257.80" stroke="#78a4d6" stroke-width="1.3" stroke-linecap="butt"/>
<text x="80.50" y="260.80" font-size="8.6" textLength="23.20" lengthAdjust="spacingAndGlyphs">DMSO</text>
<line x1="67.00" y1="270.30" x2="80.00" y2="270.30" stroke="#d8283c" stroke-width="1.3" stroke-linecap="butt"/>
<text x="80.50" y="273.30" font-size="8.6" textLength="30.50" lengthAdjust="spacingAndGlyphs">Imatinib</text>
<line x1="67.00" y1="282.80" x2="80.00" y2="282.80" stroke="#b4d282" stroke-width="1.3" stroke-linecap="butt"/>
<text x="80.50" y="285.80" font-size="8.6" textLength="39.40" lengthAdjust="spacingAndGlyphs">Anagrelide</text>
<line x1="67.00" y1="295.20" x2="80.00" y2="295.20" stroke="#5a3890" stroke-width="1.3" stroke-linecap="butt"/>
<text x="80.50" y="298.20" font-size="8.6" textLength="32.70" lengthAdjust="spacingAndGlyphs">Ima+Ana</text>
<polyline points="70.00,355.69 110.00,375.97 150.00,381.85 190.00,383.81 230.00,384.99" fill="none" stroke="#a8cb72" stroke-width="1.5" stroke-linejoin="miter" stroke-linecap="round"/>
<polyline points="70.00,355.69 110.00,385.19 150.00,386.30 190.00,386.76 230.00,387.08" fill="none" stroke="#a81c32" stroke-width="1.5" stroke-linejoin="miter" stroke-linecap="round"/>
<polyline points="70.00,355.69 110.00,386.76 150.00,387.74 190.00,388.06 230.00,388.26" fill="none" stroke="#5a2d88" stroke-width="1.5" stroke-linejoin="miter" stroke-linecap="round"/>
<polyline points="70.00,355.69 110.00,341.30 150.00,317.76 190.00,291.60 230.00,286.37" fill="none" stroke="#6197d2" stroke-width="1.5" stroke-linejoin="miter" stroke-linecap="round"/>
<line x1="110.00" y1="340.00" x2="110.00" y2="342.61" stroke="#6197d2" stroke-width="1" stroke-linecap="butt"/>
<line x1="108.50" y1="340.00" x2="111.50" y2="340.00" stroke="#6197d2" stroke-width="1" stroke-linecap="butt"/>
<line x1="108.50" y1="342.61" x2="111.50" y2="342.61" stroke="#6197d2" stroke-width="1" stroke-linecap="butt"/>
<line x1="150.00" y1="315.14" x2="150.00" y2="320.38" stroke="#6197d2" stroke-width="1" stroke-linecap="butt"/>
<line x1="148.50" y1="315.14" x2="151.50" y2="315.14" stroke="#6197d2" stroke-width="1" stroke-linecap="butt"/>
<line x1="148.50" y1="320.38" x2="151.50" y2="320.38" stroke="#6197d2" stroke-width="1" stroke-linecap="butt"/>
<line x1="190.00" y1="288.33" x2="190.00" y2="294.87" stroke="#6197d2" stroke-width="1" stroke-linecap="butt"/>
<line x1="188.50" y1="288.33" x2="191.50" y2="288.33" stroke="#6197d2" stroke-width="1" stroke-linecap="butt"/>
<line x1="188.50" y1="294.87" x2="191.50" y2="294.87" stroke="#6197d2" stroke-width="1" stroke-linecap="butt"/>
<line x1="230.00" y1="283.75" x2="230.00" y2="288.98" stroke="#6197d2" stroke-width="1" stroke-linecap="butt"/>
<line x1="228.50" y1="283.75" x2="231.50" y2="283.75" stroke="#6197d2" stroke-width="1" stroke-linecap="butt"/>
<line x1="228.50" y1="288.98" x2="231.50" y2="288.98" stroke="#6197d2" stroke-width="1" stroke-linecap="butt"/>
<path d="M242.80,381.20L242.80,388.60M239.60,383.05L246.00,386.75M239.60,386.75L246.00,383.05" stroke="#000" stroke-width="1.5" fill="none"/>
<circle cx="242.80" cy="384.90" r="1.3" fill="#000"/>
<text x="128.60" y="264.70" font-size="10.3" textLength="38.40" lengthAdjust="spacingAndGlyphs">GIST882</text>
<line x1="301.60" y1="256.40" x2="301.60" y2="390.60" stroke="#1a1a1a" stroke-width="1.8" stroke-linecap="butt"/>
<line x1="298.10" y1="389.60" x2="301.60" y2="389.60" stroke="#1a1a1a" stroke-width="1.4" stroke-linecap="butt"/>
<text x="292.70" y="393.05" font-size="9.8" text-anchor="end" textLength="5.40" lengthAdjust="spacingAndGlyphs">0</text>
<line x1="298.10" y1="356.50" x2="301.60" y2="356.50" stroke="#1a1a1a" stroke-width="1.4" stroke-linecap="butt"/>
<text x="292.70" y="359.95" font-size="9.8" text-anchor="end" textLength="18.88" lengthAdjust="spacingAndGlyphs">0.05</text>
<line x1="298.10" y1="323.40" x2="301.60" y2="323.40" stroke="#1a1a1a" stroke-width="1.4" stroke-linecap="butt"/>
<text x="292.70" y="326.85" font-size="9.8" text-anchor="end" textLength="13.49" lengthAdjust="spacingAndGlyphs">0.1</text>
<line x1="298.10" y1="290.30" x2="301.60" y2="290.30" stroke="#1a1a1a" stroke-width="1.4" stroke-linecap="butt"/>
<text x="292.70" y="293.75" font-size="9.8" text-anchor="end" textLength="18.88" lengthAdjust="spacingAndGlyphs">0.15</text>
<line x1="298.10" y1="257.20" x2="301.60" y2="257.20" stroke="#1a1a1a" stroke-width="1.4" stroke-linecap="butt"/>
<text x="292.70" y="260.65" font-size="9.8" text-anchor="end" textLength="13.49" lengthAdjust="spacingAndGlyphs">0.2</text>
<line x1="300.60" y1="389.60" x2="490.40" y2="389.60" stroke="#1a1a1a" stroke-width="1.8" stroke-linecap="butt"/>
<line x1="301.60" y1="389.60" x2="301.60" y2="393.40" stroke="#1a1a1a" stroke-width="1.4" stroke-linecap="butt"/>
<line x1="339.36" y1="389.60" x2="339.36" y2="393.40" stroke="#1a1a1a" stroke-width="1.4" stroke-linecap="butt"/>
<line x1="377.12" y1="389.60" x2="377.12" y2="393.40" stroke="#1a1a1a" stroke-width="1.4" stroke-linecap="butt"/>
<line x1="414.88" y1="389.60" x2="414.88" y2="393.40" stroke="#1a1a1a" stroke-width="1.4" stroke-linecap="butt"/>
<line x1="452.64" y1="389.60" x2="452.64" y2="393.40" stroke="#1a1a1a" stroke-width="1.4" stroke-linecap="butt"/>
<line x1="490.40" y1="389.60" x2="490.40" y2="393.40" stroke="#1a1a1a" stroke-width="1.4" stroke-linecap="butt"/>
<text x="320.40" y="406.70" font-size="9.8" text-anchor="middle" textLength="5.40" lengthAdjust="spacingAndGlyphs">0</text>
<text x="358.20" y="406.70" font-size="9.8" text-anchor="middle" textLength="5.40" lengthAdjust="spacingAndGlyphs">1</text>
<text x="396.00" y="406.70" font-size="9.8" text-anchor="middle" textLength="5.40" lengthAdjust="spacingAndGlyphs">2</text>
<text x="433.80" y="406.70" font-size="9.8" text-anchor="middle" textLength="5.40" lengthAdjust="spacingAndGlyphs">3</text>
<text x="471.60" y="406.70" font-size="9.8" text-anchor="middle" textLength="5.40" lengthAdjust="spacingAndGlyphs">4</text>
<text x="341.50" y="421.20" font-size="10" textLength="110.00" lengthAdjust="spacingAndGlyphs">Days after drug treatment</text>
<text x="270.20" y="323.45" font-size="9.6" text-anchor="middle" textLength="95.30" lengthAdjust="spacingAndGlyphs" transform="rotate(-90 270.20 323.45)">Absorbance at 540 nm</text>
<line x1="316.30" y1="257.60" x2="329.10" y2="257.60" stroke="#78a4d6" stroke-width="1.3" stroke-linecap="butt"/>
<text x="329.60" y="260.60" font-size="8.6" textLength="24.00" lengthAdjust="spacingAndGlyphs">DMSO</text>
<line x1="316.30" y1="270.30" x2="329.10" y2="270.30" stroke="#d8283c" stroke-width="1.3" stroke-linecap="butt"/>
<text x="329.60" y="273.30" font-size="8.6" textLength="31.60" lengthAdjust="spacingAndGlyphs">Imatinib</text>
<line x1="316.30" y1="283.00" x2="329.10" y2="283.00" stroke="#b4d282" stroke-width="1.3" stroke-linecap="butt"/>
<text x="329.60" y="286.00" font-size="8.6" textLength="39.70" lengthAdjust="spacingAndGlyphs">Anagrelide</text>
<line x1="316.30" y1="295.60" x2="329.10" y2="295.60" stroke="#5a3890" stroke-width="1.3" stroke-linecap="butt"/>
<text x="329.60" y="298.60" font-size="8.6" textLength="33.20" lengthAdjust="spacingAndGlyphs">Ima+Ana</text>
<polyline points="320.40,330.02 358.20,368.42 396.00,378.35 433.80,381.66 471.60,386.29" fill="none" stroke="#a81c32" stroke-width="1.5" stroke-linejoin="miter" stroke-linecap="round"/>
<polyline points="320.40,330.02 358.20,375.70 396.00,379.01 433.80,382.98 471.60,387.61" fill="none" stroke="#5a2d88" stroke-width="1.5" stroke-linejoin="miter" stroke-linecap="round"/>
<polyline points="320.40,330.02 358.20,314.79 396.00,300.89 433.80,295.60 471.60,284.34" fill="none" stroke="#a8cb72" stroke-width="1.5" stroke-linejoin="miter" stroke-linecap="round"/>
<line x1="358.20" y1="310.16" x2="358.20" y2="319.43" stroke="#a8cb72" stroke-width="1" stroke-linecap="butt"/>
<line x1="356.70" y1="310.16" x2="359.70" y2="310.16" stroke="#a8cb72" stroke-width="1" stroke-linecap="butt"/>
<line x1="356.70" y1="319.43" x2="359.70" y2="319.43" stroke="#a8cb72" stroke-width="1" stroke-linecap="butt"/>
<line x1="396.00" y1="296.92" x2="396.00" y2="304.86" stroke="#a8cb72" stroke-width="1" stroke-linecap="butt"/>
<line x1="394.50" y1="296.92" x2="397.50" y2="296.92" stroke="#a8cb72" stroke-width="1" stroke-linecap="butt"/>
<line x1="394.50" y1="304.86" x2="397.50" y2="304.86" stroke="#a8cb72" stroke-width="1" stroke-linecap="butt"/>
<line x1="471.60" y1="283.02" x2="471.60" y2="285.67" stroke="#a8cb72" stroke-width="1" stroke-linecap="butt"/>
<line x1="470.10" y1="283.02" x2="473.10" y2="283.02" stroke="#a8cb72" stroke-width="1" stroke-linecap="butt"/>
<line x1="470.10" y1="285.67" x2="473.10" y2="285.67" stroke="#a8cb72" stroke-width="1" stroke-linecap="butt"/>
<polyline points="320.40,330.02 358.20,310.16 396.00,289.64 433.80,285.00 471.60,267.13" fill="none" stroke="#6197d2" stroke-width="1.5" stroke-linejoin="miter" stroke-linecap="round"/>
<line x1="358.20" y1="306.19" x2="358.20" y2="314.13" stroke="#6197d2" stroke-width="1" stroke-linecap="butt"/>
<line x1="356.70" y1="306.19" x2="359.70" y2="306.19" stroke="#6197d2" stroke-width="1" stroke-linecap="butt"/>
<line x1="356.70" y1="314.13" x2="359.70" y2="314.13" stroke="#6197d2" stroke-width="1" stroke-linecap="butt"/>
<line x1="396.00" y1="286.33" x2="396.00" y2="292.95" stroke="#6197d2" stroke-width="1" stroke-linecap="butt"/>
<line x1="394.50" y1="286.33" x2="397.50" y2="286.33" stroke="#6197d2" stroke-width="1" stroke-linecap="butt"/>
<line x1="394.50" y1="292.95" x2="397.50" y2="292.95" stroke="#6197d2" stroke-width="1" stroke-linecap="butt"/>
<line x1="433.80" y1="282.36" x2="433.80" y2="287.65" stroke="#6197d2" stroke-width="1" stroke-linecap="butt"/>
<line x1="432.30" y1="282.36" x2="435.30" y2="282.36" stroke="#6197d2" stroke-width="1" stroke-linecap="butt"/>
<line x1="432.30" y1="287.65" x2="435.30" y2="287.65" stroke="#6197d2" stroke-width="1" stroke-linecap="butt"/>
<path d="M483.60,282.10L483.60,289.50M480.40,283.95L486.80,287.65M480.40,287.65L486.80,283.95" stroke="#000" stroke-width="1.5" fill="none"/>
<circle cx="483.60" cy="285.80" r="1.3" fill="#000"/>
<path d="M483.20,381.70L483.20,389.10M480.00,383.55L486.40,387.25M480.00,387.25L486.40,383.55" stroke="#000" stroke-width="1.5" fill="none"/>
<circle cx="483.20" cy="385.40" r="1.3" fill="#000"/>
<text x="377.50" y="262.00" font-size="10.3" textLength="32.50" lengthAdjust="spacingAndGlyphs">GIST48</text>
<line x1="55.90" y1="460.88" x2="55.90" y2="592.10" stroke="#1a1a1a" stroke-width="1.8" stroke-linecap="butt"/>
<line x1="52.50" y1="591.10" x2="55.90" y2="591.10" stroke="#1a1a1a" stroke-width="1.4" stroke-linecap="butt"/>
<text x="46.00" y="594.50" font-size="9.6" text-anchor="end" textLength="5.34" lengthAdjust="spacingAndGlyphs">0</text>
<line x1="52.50" y1="569.53" x2="55.90" y2="569.53" stroke="#1a1a1a" stroke-width="1.4" stroke-linecap="butt"/>
<text x="46.00" y="572.93" font-size="9.6" text-anchor="end" textLength="10.68" lengthAdjust="spacingAndGlyphs">10</text>
<line x1="52.50" y1="547.96" x2="55.90" y2="547.96" stroke="#1a1a1a" stroke-width="1.4" stroke-linecap="butt"/>
<text x="46.00" y="551.36" font-size="9.6" text-anchor="end" textLength="10.68" lengthAdjust="spacingAndGlyphs">20</text>
<line x1="52.50" y1="526.39" x2="55.90" y2="526.39" stroke="#1a1a1a" stroke-width="1.4" stroke-linecap="butt"/>
<text x="46.00" y="529.79" font-size="9.6" text-anchor="end" textLength="10.68" lengthAdjust="spacingAndGlyphs">30</text>
<line x1="52.50" y1="504.82" x2="55.90" y2="504.82" stroke="#1a1a1a" stroke-width="1.4" stroke-linecap="butt"/>
<text x="46.00" y="508.22" font-size="9.6" text-anchor="end" textLength="10.68" lengthAdjust="spacingAndGlyphs">40</text>
<line x1="52.50" y1="483.25" x2="55.90" y2="483.25" stroke="#1a1a1a" stroke-width="1.4" stroke-linecap="butt"/>
<text x="46.00" y="486.65" font-size="9.6" text-anchor="end" textLength="10.68" lengthAdjust="spacingAndGlyphs">50</text>
<line x1="52.50" y1="461.68" x2="55.90" y2="461.68" stroke="#1a1a1a" stroke-width="1.4" stroke-linecap="butt"/>
<text x="46.00" y="465.08" font-size="9.6" text-anchor="end" textLength="10.68" lengthAdjust="spacingAndGlyphs">60</text>
<rect x="117.00" y="543.43" width="19.30" height="47.67" fill="#f00000" stroke="#222" stroke-width="1.2"/>
<rect x="164.00" y="544.29" width="19.00" height="46.81" fill="#92d050" stroke="#222" stroke-width="1.2"/>
<rect x="211.40" y="511.51" width="19.40" height="79.59" fill="#7030a0" stroke="#222" stroke-width="1.2"/>
<line x1="126.65" y1="532.50" x2="126.65" y2="554.00" stroke="#111" stroke-width="1.3" stroke-linecap="butt"/>
<line x1="125.15" y1="532.50" x2="128.15" y2="532.50" stroke="#111" stroke-width="1.3" stroke-linecap="butt"/>
<line x1="125.15" y1="554.00" x2="128.15" y2="554.00" stroke="#111" stroke-width="1.3" stroke-linecap="butt"/>
<line x1="173.50" y1="539.20" x2="173.50" y2="548.50" stroke="#111" stroke-width="1.3" stroke-linecap="butt"/>
<line x1="172.00" y1="539.20" x2="175.00" y2="539.20" stroke="#111" stroke-width="1.3" stroke-linecap="butt"/>
<line x1="172.00" y1="548.50" x2="175.00" y2="548.50" stroke="#111" stroke-width="1.3" stroke-linecap="butt"/>
<line x1="221.10" y1="487.00" x2="221.10" y2="536.00" stroke="#111" stroke-width="1.3" stroke-linecap="butt"/>
<line x1="219.60" y1="487.00" x2="222.60" y2="487.00" stroke="#111" stroke-width="1.3" stroke-linecap="butt"/>
<line x1="219.60" y1="536.00" x2="222.60" y2="536.00" stroke="#111" stroke-width="1.3" stroke-linecap="butt"/>
<line x1="54.90" y1="591.10" x2="244.20" y2="591.10" stroke="#1a1a1a" stroke-width="1.8" stroke-linecap="butt"/>
<line x1="55.90" y1="591.10" x2="55.90" y2="594.70" stroke="#1a1a1a" stroke-width="1.4" stroke-linecap="butt"/>
<line x1="102.97" y1="591.10" x2="102.97" y2="594.70" stroke="#1a1a1a" stroke-width="1.4" stroke-linecap="butt"/>
<line x1="150.05" y1="591.10" x2="150.05" y2="594.70" stroke="#1a1a1a" stroke-width="1.4" stroke-linecap="butt"/>
<line x1="197.12" y1="591.10" x2="197.12" y2="594.70" stroke="#1a1a1a" stroke-width="1.4" stroke-linecap="butt"/>
<line x1="244.20" y1="591.10" x2="244.20" y2="594.70" stroke="#1a1a1a" stroke-width="1.4" stroke-linecap="butt"/>
<text x="108.80" y="525.80" font-size="8.8" textLength="34.40" lengthAdjust="spacingAndGlyphs"><tspan font-style="italic">P</tspan> = 0.008</text>
<text x="157.70" y="525.80" font-size="8.8" textLength="32.90" lengthAdjust="spacingAndGlyphs"><tspan font-style="italic">P</tspan> = 0.001</text>
<text x="203.00" y="475.10" font-size="8.8" textLength="34.00" lengthAdjust="spacingAndGlyphs"><tspan font-style="italic">P</tspan> = 0.008</text>
<text x="66.20" y="608.80" font-size="9.4" textLength="26.80" lengthAdjust="spacingAndGlyphs">DMSO</text>
<text x="109.00" y="608.80" font-size="9.4" textLength="35.00" lengthAdjust="spacingAndGlyphs">Imatinib</text>
<text x="150.80" y="608.80" font-size="9.4" textLength="45.20" lengthAdjust="spacingAndGlyphs">Anagrelide</text>
<text x="202.50" y="608.80" font-size="9.4" textLength="37.50" lengthAdjust="spacingAndGlyphs">Ima+Ana</text>
<text x="133.80" y="468.50" font-size="10.3" textLength="39.20" lengthAdjust="spacingAndGlyphs">GIST882</text>
<text x="31.00" y="526.75" font-size="10.0" text-anchor="middle" textLength="97.70" lengthAdjust="spacingAndGlyphs" transform="rotate(-90 31.00 526.75)">% TUNEL -positive cells</text>
<line x1="302.20" y1="460.90" x2="302.20" y2="592.30" stroke="#1a1a1a" stroke-width="1.8" stroke-linecap="butt"/>
<line x1="298.80" y1="591.30" x2="302.20" y2="591.30" stroke="#1a1a1a" stroke-width="1.4" stroke-linecap="butt"/>
<text x="292.90" y="594.70" font-size="9.6" text-anchor="end" textLength="5.34" lengthAdjust="spacingAndGlyphs">0</text>
<line x1="298.80" y1="569.70" x2="302.20" y2="569.70" stroke="#1a1a1a" stroke-width="1.4" stroke-linecap="butt"/>
<text x="292.90" y="573.10" font-size="9.6" text-anchor="end" textLength="10.68" lengthAdjust="spacingAndGlyphs">10</text>
<line x1="298.80" y1="548.10" x2="302.20" y2="548.10" stroke="#1a1a1a" stroke-width="1.4" stroke-linecap="butt"/>
<text x="292.90" y="551.50" font-size="9.6" text-anchor="end" textLength="10.68" lengthAdjust="spacingAndGlyphs">20</text>
<line x1="298.80" y1="526.50" x2="302.20" y2="526.50" stroke="#1a1a1a" stroke-width="1.4" stroke-linecap="butt"/>
<text x="292.90" y="529.90" font-size="9.6" text-anchor="end" textLength="10.68" lengthAdjust="spacingAndGlyphs">30</text>
<line x1="298.80" y1="504.90" x2="302.20" y2="504.90" stroke="#1a1a1a" stroke-width="1.4" stroke-linecap="butt"/>
<text x="292.90" y="508.30" font-size="9.6" text-anchor="end" textLength="10.68" lengthAdjust="spacingAndGlyphs">40</text>
<line x1="298.80" y1="483.30" x2="302.20" y2="483.30" stroke="#1a1a1a" stroke-width="1.4" stroke-linecap="butt"/>
<text x="292.90" y="486.70" font-size="9.6" text-anchor="end" textLength="10.68" lengthAdjust="spacingAndGlyphs">50</text>
<line x1="298.80" y1="461.70" x2="302.20" y2="461.70" stroke="#1a1a1a" stroke-width="1.4" stroke-linecap="butt"/>
<text x="292.90" y="465.10" font-size="9.6" text-anchor="end" textLength="10.68" lengthAdjust="spacingAndGlyphs">60</text>
<rect x="362.70" y="522.18" width="19.10" height="69.12" fill="#f00000" stroke="#222" stroke-width="1.2"/>
<rect x="409.20" y="589.57" width="19.10" height="1.73" fill="#92d050" stroke="#222" stroke-width="1.2"/>
<rect x="454.80" y="496.04" width="19.00" height="95.26" fill="#7030a0" stroke="#222" stroke-width="1.2"/>
<line x1="372.25" y1="497.50" x2="372.25" y2="545.50" stroke="#111" stroke-width="1.3" stroke-linecap="butt"/>
<line x1="370.75" y1="497.50" x2="373.75" y2="497.50" stroke="#111" stroke-width="1.3" stroke-linecap="butt"/>
<line x1="370.75" y1="545.50" x2="373.75" y2="545.50" stroke="#111" stroke-width="1.3" stroke-linecap="butt"/>
<line x1="418.75" y1="588.60" x2="418.75" y2="590.00" stroke="#111" stroke-width="1.3" stroke-linecap="butt"/>
<line x1="417.25" y1="588.60" x2="420.25" y2="588.60" stroke="#111" stroke-width="1.3" stroke-linecap="butt"/>
<line x1="417.25" y1="590.00" x2="420.25" y2="590.00" stroke="#111" stroke-width="1.3" stroke-linecap="butt"/>
<line x1="464.30" y1="473.80" x2="464.30" y2="517.50" stroke="#111" stroke-width="1.3" stroke-linecap="butt"/>
<line x1="462.80" y1="473.80" x2="465.80" y2="473.80" stroke="#111" stroke-width="1.3" stroke-linecap="butt"/>
<line x1="462.80" y1="517.50" x2="465.80" y2="517.50" stroke="#111" stroke-width="1.3" stroke-linecap="butt"/>
<line x1="301.20" y1="591.30" x2="488.00" y2="591.30" stroke="#1a1a1a" stroke-width="1.8" stroke-linecap="butt"/>
<line x1="302.20" y1="591.30" x2="302.20" y2="594.90" stroke="#1a1a1a" stroke-width="1.4" stroke-linecap="butt"/>
<line x1="348.65" y1="591.30" x2="348.65" y2="594.90" stroke="#1a1a1a" stroke-width="1.4" stroke-linecap="butt"/>
<line x1="395.10" y1="591.30" x2="395.10" y2="594.90" stroke="#1a1a1a" stroke-width="1.4" stroke-linecap="butt"/>
<line x1="441.55" y1="591.30" x2="441.55" y2="594.90" stroke="#1a1a1a" stroke-width="1.4" stroke-linecap="butt"/>
<line x1="488.00" y1="591.30" x2="488.00" y2="594.90" stroke="#1a1a1a" stroke-width="1.4" stroke-linecap="butt"/>
<text x="354.50" y="491.10" font-size="8.8" textLength="33.50" lengthAdjust="spacingAndGlyphs"><tspan font-style="italic">P</tspan> = 0.008</text>
<text x="401.50" y="579.10" font-size="8.8" textLength="34.50" lengthAdjust="spacingAndGlyphs"><tspan font-style="italic">P</tspan> = 0.310</text>
<text x="449.20" y="464.10" font-size="8.8" textLength="34.80" lengthAdjust="spacingAndGlyphs"><tspan font-style="italic">P</tspan> = 0.008</text>
<text x="312.50" y="608.20" font-size="9.4" textLength="26.90" lengthAdjust="spacingAndGlyphs">DMSO</text>
<text x="354.20" y="608.20" font-size="9.4" textLength="35.20" lengthAdjust="spacingAndGlyphs">Imatinib</text>
<text x="395.40" y="608.20" font-size="9.4" textLength="45.20" lengthAdjust="spacingAndGlyphs">Anagrelide</text>
<text x="445.50" y="608.20" font-size="9.4" textLength="37.50" lengthAdjust="spacingAndGlyphs">Ima+Ana</text>
<text x="384.60" y="468.30" font-size="10.3" textLength="33.00" lengthAdjust="spacingAndGlyphs">GIST48</text>
<text x="278.60" y="526.65" font-size="8.8" text-anchor="middle" textLength="86.30" lengthAdjust="spacingAndGlyphs" transform="rotate(-90 278.60 526.65)">% TUNEL -positive cells</text>
<line x1="52.20" y1="645.80" x2="52.20" y2="778.80" stroke="#1a1a1a" stroke-width="1.8" stroke-linecap="butt"/>
<line x1="48.80" y1="777.80" x2="52.20" y2="777.80" stroke="#1a1a1a" stroke-width="1.4" stroke-linecap="butt"/>
<text x="42.50" y="781.20" font-size="9.6" text-anchor="end" textLength="5.34" lengthAdjust="spacingAndGlyphs">0</text>
<line x1="48.80" y1="745.00" x2="52.20" y2="745.00" stroke="#1a1a1a" stroke-width="1.4" stroke-linecap="butt"/>
<text x="42.50" y="748.40" font-size="9.6" text-anchor="end" textLength="5.34" lengthAdjust="spacingAndGlyphs">2</text>
<line x1="48.80" y1="712.20" x2="52.20" y2="712.20" stroke="#1a1a1a" stroke-width="1.4" stroke-linecap="butt"/>
<text x="42.50" y="715.60" font-size="9.6" text-anchor="end" textLength="5.34" lengthAdjust="spacingAndGlyphs">4</text>
<line x1="48.80" y1="679.40" x2="52.20" y2="679.40" stroke="#1a1a1a" stroke-width="1.4" stroke-linecap="butt"/>
<text x="42.50" y="682.80" font-size="9.6" text-anchor="end" textLength="5.34" lengthAdjust="spacingAndGlyphs">6</text>
<line x1="48.80" y1="646.60" x2="52.20" y2="646.60" stroke="#1a1a1a" stroke-width="1.4" stroke-linecap="butt"/>
<text x="42.50" y="650.00" font-size="9.6" text-anchor="end" textLength="5.34" lengthAdjust="spacingAndGlyphs">8</text>
<rect x="65.50" y="713.35" width="17.70" height="64.45" fill="#4475c8" stroke="#142040" stroke-width="1.2"/>
<rect x="107.40" y="693.83" width="17.70" height="83.97" fill="#4475c8" stroke="#142040" stroke-width="1.2"/>
<rect x="149.80" y="694.98" width="17.80" height="82.82" fill="#4475c8" stroke="#142040" stroke-width="1.2"/>
<rect x="192.20" y="684.65" width="17.70" height="93.15" fill="#4475c8" stroke="#142040" stroke-width="1.2"/>
<rect x="234.60" y="668.74" width="17.80" height="109.06" fill="#4475c8" stroke="#142040" stroke-width="1.2"/>
<line x1="74.35" y1="705.75" x2="74.35" y2="721.25" stroke="#111" stroke-width="1.3" stroke-linecap="butt"/>
<line x1="72.85" y1="705.75" x2="75.85" y2="705.75" stroke="#111" stroke-width="1.3" stroke-linecap="butt"/>
<line x1="72.85" y1="721.25" x2="75.85" y2="721.25" stroke="#111" stroke-width="1.3" stroke-linecap="butt"/>
<line x1="116.25" y1="690.00" x2="116.25" y2="697.50" stroke="#111" stroke-width="1.3" stroke-linecap="butt"/>
<line x1="114.75" y1="690.00" x2="117.75" y2="690.00" stroke="#111" stroke-width="1.3" stroke-linecap="butt"/>
<line x1="114.75" y1="697.50" x2="117.75" y2="697.50" stroke="#111" stroke-width="1.3" stroke-linecap="butt"/>
<line x1="158.70" y1="693.00" x2="158.70" y2="696.50" stroke="#111" stroke-width="1.3" stroke-linecap="butt"/>
<line x1="157.20" y1="693.00" x2="160.20" y2="693.00" stroke="#111" stroke-width="1.3" stroke-linecap="butt"/>
<line x1="157.20" y1="696.50" x2="160.20" y2="696.50" stroke="#111" stroke-width="1.3" stroke-linecap="butt"/>
<line x1="201.05" y1="676.80" x2="201.05" y2="694.00" stroke="#111" stroke-width="1.3" stroke-linecap="butt"/>
<line x1="199.55" y1="676.80" x2="202.55" y2="676.80" stroke="#111" stroke-width="1.3" stroke-linecap="butt"/>
<line x1="199.55" y1="694.00" x2="202.55" y2="694.00" stroke="#111" stroke-width="1.3" stroke-linecap="butt"/>
<line x1="243.50" y1="665.40" x2="243.50" y2="672.00" stroke="#111" stroke-width="1.3" stroke-linecap="butt"/>
<line x1="242.00" y1="665.40" x2="245.00" y2="665.40" stroke="#111" stroke-width="1.3" stroke-linecap="butt"/>
<line x1="242.00" y1="672.00" x2="245.00" y2="672.00" stroke="#111" stroke-width="1.3" stroke-linecap="butt"/>
<line x1="51.20" y1="777.80" x2="264.20" y2="777.80" stroke="#1a1a1a" stroke-width="1.8" stroke-linecap="butt"/>
<line x1="52.20" y1="777.80" x2="52.20" y2="781.40" stroke="#1a1a1a" stroke-width="1.4" stroke-linecap="butt"/>
<line x1="94.60" y1="777.80" x2="94.60" y2="781.40" stroke="#1a1a1a" stroke-width="1.4" stroke-linecap="butt"/>
<line x1="137.00" y1="777.80" x2="137.00" y2="781.40" stroke="#1a1a1a" stroke-width="1.4" stroke-linecap="butt"/>
<line x1="179.40" y1="777.80" x2="179.40" y2="781.40" stroke="#1a1a1a" stroke-width="1.4" stroke-linecap="butt"/>
<line x1="221.80" y1="777.80" x2="221.80" y2="781.40" stroke="#1a1a1a" stroke-width="1.4" stroke-linecap="butt"/>
<line x1="264.20" y1="777.80" x2="264.20" y2="781.40" stroke="#1a1a1a" stroke-width="1.4" stroke-linecap="butt"/>
<text x="90.50" y="681.10" font-size="8.8" textLength="34.50" lengthAdjust="spacingAndGlyphs"><tspan font-style="italic">P</tspan> = 0.026</text>
<text x="131.70" y="680.80" font-size="8.8" textLength="34.30" lengthAdjust="spacingAndGlyphs"><tspan font-style="italic">P</tspan> = 0.026</text>
<text x="175.40" y="670.60" font-size="8.8" textLength="34.40" lengthAdjust="spacingAndGlyphs"><tspan font-style="italic">P</tspan> = 0.011</text>
<text x="216.30" y="658.30" font-size="8.8" textLength="34.50" lengthAdjust="spacingAndGlyphs"><tspan font-style="italic">P</tspan> = 0.004</text>
<text x="62.00" y="793.80" font-size="9.4" textLength="24.20" lengthAdjust="spacingAndGlyphs">DMSO</text>
<text x="98.50" y="793.80" font-size="9.4" textLength="35.70" lengthAdjust="spacingAndGlyphs">Cilostazol</text>
<text x="140.00" y="793.80" font-size="9.4" textLength="37.00" lengthAdjust="spacingAndGlyphs">Milrinone</text>
<text x="182.50" y="793.80" font-size="9.4" textLength="37.50" lengthAdjust="spacingAndGlyphs">Amrinone</text>
<text x="223.70" y="793.80" font-size="9.4" textLength="39.70" lengthAdjust="spacingAndGlyphs">Anagrelide</text>
<text x="142.00" y="652.60" font-size="10.3" textLength="38.60" lengthAdjust="spacingAndGlyphs">GIST882</text>
<text x="33.40" y="711.05" font-size="9.8" text-anchor="middle" textLength="73.70" lengthAdjust="spacingAndGlyphs" transform="rotate(-90 33.40 711.05)">cAMP (pmol/mL)</text>
<line x1="297.00" y1="648.92" x2="297.00" y2="781.60" stroke="#1a1a1a" stroke-width="1.8" stroke-linecap="butt"/>
<line x1="293.60" y1="780.60" x2="297.00" y2="780.60" stroke="#1a1a1a" stroke-width="1.4" stroke-linecap="butt"/>
<text x="287.20" y="784.00" font-size="9.6" text-anchor="end" textLength="5.34" lengthAdjust="spacingAndGlyphs">0</text>
<line x1="293.60" y1="747.88" x2="297.00" y2="747.88" stroke="#1a1a1a" stroke-width="1.4" stroke-linecap="butt"/>
<text x="287.20" y="751.28" font-size="9.6" text-anchor="end" textLength="5.34" lengthAdjust="spacingAndGlyphs">2</text>
<line x1="293.60" y1="715.16" x2="297.00" y2="715.16" stroke="#1a1a1a" stroke-width="1.4" stroke-linecap="butt"/>
<text x="287.20" y="718.56" font-size="9.6" text-anchor="end" textLength="5.34" lengthAdjust="spacingAndGlyphs">4</text>
<line x1="293.60" y1="682.44" x2="297.00" y2="682.44" stroke="#1a1a1a" stroke-width="1.4" stroke-linecap="butt"/>
<text x="287.20" y="685.84" font-size="9.6" text-anchor="end" textLength="5.34" lengthAdjust="spacingAndGlyphs">6</text>
<line x1="293.60" y1="649.72" x2="297.00" y2="649.72" stroke="#1a1a1a" stroke-width="1.4" stroke-linecap="butt"/>
<text x="287.20" y="653.12" font-size="9.6" text-anchor="end" textLength="5.34" lengthAdjust="spacingAndGlyphs">8</text>
<rect x="309.20" y="724.32" width="17.20" height="56.28" fill="#4475c8" stroke="#142040" stroke-width="1.2"/>
<rect x="350.40" y="712.05" width="17.30" height="68.55" fill="#4475c8" stroke="#142040" stroke-width="1.2"/>
<rect x="391.60" y="711.56" width="17.70" height="69.04" fill="#4475c8" stroke="#142040" stroke-width="1.2"/>
<rect x="433.10" y="714.67" width="17.70" height="65.93" fill="#4475c8" stroke="#142040" stroke-width="1.2"/>
<rect x="474.70" y="707.63" width="17.70" height="72.97" fill="#4475c8" stroke="#142040" stroke-width="1.2"/>
<line x1="317.80" y1="720.50" x2="317.80" y2="728.75" stroke="#111" stroke-width="1.3" stroke-linecap="butt"/>
<line x1="316.30" y1="720.50" x2="319.30" y2="720.50" stroke="#111" stroke-width="1.3" stroke-linecap="butt"/>
<line x1="316.30" y1="728.75" x2="319.30" y2="728.75" stroke="#111" stroke-width="1.3" stroke-linecap="butt"/>
<line x1="359.05" y1="706.25" x2="359.05" y2="718.25" stroke="#111" stroke-width="1.3" stroke-linecap="butt"/>
<line x1="357.55" y1="706.25" x2="360.55" y2="706.25" stroke="#111" stroke-width="1.3" stroke-linecap="butt"/>
<line x1="357.55" y1="718.25" x2="360.55" y2="718.25" stroke="#111" stroke-width="1.3" stroke-linecap="butt"/>
<line x1="400.45" y1="707.50" x2="400.45" y2="716.20" stroke="#111" stroke-width="1.3" stroke-linecap="butt"/>
<line x1="398.95" y1="707.50" x2="401.95" y2="707.50" stroke="#111" stroke-width="1.3" stroke-linecap="butt"/>
<line x1="398.95" y1="716.20" x2="401.95" y2="716.20" stroke="#111" stroke-width="1.3" stroke-linecap="butt"/>
<line x1="441.95" y1="710.60" x2="441.95" y2="718.60" stroke="#111" stroke-width="1.3" stroke-linecap="butt"/>
<line x1="440.45" y1="710.60" x2="443.45" y2="710.60" stroke="#111" stroke-width="1.3" stroke-linecap="butt"/>
<line x1="440.45" y1="718.60" x2="443.45" y2="718.60" stroke="#111" stroke-width="1.3" stroke-linecap="butt"/>
<line x1="483.55" y1="703.00" x2="483.55" y2="712.50" stroke="#111" stroke-width="1.3" stroke-linecap="butt"/>
<line x1="482.05" y1="703.00" x2="485.05" y2="703.00" stroke="#111" stroke-width="1.3" stroke-linecap="butt"/>
<line x1="482.05" y1="712.50" x2="485.05" y2="712.50" stroke="#111" stroke-width="1.3" stroke-linecap="butt"/>
<line x1="296.00" y1="780.60" x2="504.40" y2="780.60" stroke="#1a1a1a" stroke-width="1.8" stroke-linecap="butt"/>
<line x1="297.00" y1="780.60" x2="297.00" y2="784.20" stroke="#1a1a1a" stroke-width="1.4" stroke-linecap="butt"/>
<line x1="338.48" y1="780.60" x2="338.48" y2="784.20" stroke="#1a1a1a" stroke-width="1.4" stroke-linecap="butt"/>
<line x1="379.96" y1="780.60" x2="379.96" y2="784.20" stroke="#1a1a1a" stroke-width="1.4" stroke-linecap="butt"/>
<line x1="421.44" y1="780.60" x2="421.44" y2="784.20" stroke="#1a1a1a" stroke-width="1.4" stroke-linecap="butt"/>
<line x1="462.92" y1="780.60" x2="462.92" y2="784.20" stroke="#1a1a1a" stroke-width="1.4" stroke-linecap="butt"/>
<line x1="504.40" y1="780.60" x2="504.40" y2="784.20" stroke="#1a1a1a" stroke-width="1.4" stroke-linecap="butt"/>
<text x="340.50" y="696.35" font-size="8.8" textLength="33.25" lengthAdjust="spacingAndGlyphs"><tspan font-style="italic">P</tspan> = 0.128</text>
<text x="382.00" y="696.10" font-size="8.8" textLength="35.00" lengthAdjust="spacingAndGlyphs"><tspan font-style="italic">P</tspan> = 0.038</text>
<text x="422.50" y="703.90" font-size="8.8" textLength="34.50" lengthAdjust="spacingAndGlyphs"><tspan font-style="italic">P</tspan> = 0.128</text>
<text x="464.00" y="696.10" font-size="8.8" textLength="34.50" lengthAdjust="spacingAndGlyphs"><tspan font-style="italic">P</tspan> = 0.026</text>
<text x="306.25" y="796.00" font-size="9.4" textLength="23.25" lengthAdjust="spacingAndGlyphs">DMSO</text>
<text x="340.50" y="796.00" font-size="9.4" textLength="36.50" lengthAdjust="spacingAndGlyphs">Cilostazol</text>
<text x="383.00" y="796.00" font-size="9.4" textLength="36.00" lengthAdjust="spacingAndGlyphs">Milrinone</text>
<text x="423.70" y="796.00" font-size="9.4" textLength="36.90" lengthAdjust="spacingAndGlyphs">Amrinone</text>
<text x="463.00" y="796.00" font-size="9.4" textLength="41.00" lengthAdjust="spacingAndGlyphs">Anagrelide</text>
<text x="392.90" y="652.60" font-size="10.3" textLength="33.30" lengthAdjust="spacingAndGlyphs">GIST48</text>
<text x="278.60" y="714.15" font-size="9.8" text-anchor="middle" textLength="71.30" lengthAdjust="spacingAndGlyphs" transform="rotate(-90 278.60 714.15)">cAMP (pmol/mL)</text>
<line x1="54.20" y1="816.40" x2="54.20" y2="943.20" stroke="#1a1a1a" stroke-width="1.8" stroke-linecap="butt"/>
<line x1="50.80" y1="942.20" x2="54.20" y2="942.20" stroke="#1a1a1a" stroke-width="1.4" stroke-linecap="butt"/>
<text x="43.80" y="945.60" font-size="9.6" text-anchor="end" textLength="5.34" lengthAdjust="spacingAndGlyphs">0</text>
<line x1="50.80" y1="917.20" x2="54.20" y2="917.20" stroke="#1a1a1a" stroke-width="1.4" stroke-linecap="butt"/>
<text x="43.80" y="920.60" font-size="9.6" text-anchor="end" textLength="18.68" lengthAdjust="spacingAndGlyphs">0.02</text>
<line x1="50.80" y1="892.20" x2="54.20" y2="892.20" stroke="#1a1a1a" stroke-width="1.4" stroke-linecap="butt"/>
<text x="43.80" y="895.60" font-size="9.6" text-anchor="end" textLength="18.68" lengthAdjust="spacingAndGlyphs">0.04</text>
<line x1="50.80" y1="867.20" x2="54.20" y2="867.20" stroke="#1a1a1a" stroke-width="1.4" stroke-linecap="butt"/>
<text x="43.80" y="870.60" font-size="9.6" text-anchor="end" textLength="18.68" lengthAdjust="spacingAndGlyphs">0.06</text>
<line x1="50.80" y1="842.20" x2="54.20" y2="842.20" stroke="#1a1a1a" stroke-width="1.4" stroke-linecap="butt"/>
<text x="43.80" y="845.60" font-size="9.6" text-anchor="end" textLength="18.68" lengthAdjust="spacingAndGlyphs">0.08</text>
<line x1="50.80" y1="817.20" x2="54.20" y2="817.20" stroke="#1a1a1a" stroke-width="1.4" stroke-linecap="butt"/>
<text x="43.80" y="820.60" font-size="9.6" text-anchor="end" textLength="13.35" lengthAdjust="spacingAndGlyphs">0.1</text>
<rect x="66.20" y="880.95" width="17.60" height="61.25" fill="#1b6fcf" stroke="#142040" stroke-width="1.2"/>
<rect x="107.30" y="859.70" width="18.10" height="82.50" fill="#1b6fcf" stroke="#142040" stroke-width="1.2"/>
<rect x="149.10" y="856.20" width="17.90" height="86.00" fill="#1b6fcf" stroke="#142040" stroke-width="1.2"/>
<rect x="190.60" y="859.70" width="17.90" height="82.50" fill="#1b6fcf" stroke="#142040" stroke-width="1.2"/>
<rect x="232.40" y="838.45" width="17.40" height="103.75" fill="#1b6fcf" stroke="#142040" stroke-width="1.2"/>
<line x1="75.00" y1="863.25" x2="75.00" y2="898.00" stroke="#111" stroke-width="1.3" stroke-linecap="butt"/>
<line x1="73.50" y1="863.25" x2="76.50" y2="863.25" stroke="#111" stroke-width="1.3" stroke-linecap="butt"/>
<line x1="73.50" y1="898.00" x2="76.50" y2="898.00" stroke="#111" stroke-width="1.3" stroke-linecap="butt"/>
<line x1="116.35" y1="856.20" x2="116.35" y2="863.00" stroke="#111" stroke-width="1.3" stroke-linecap="butt"/>
<line x1="114.85" y1="856.20" x2="117.85" y2="856.20" stroke="#111" stroke-width="1.3" stroke-linecap="butt"/>
<line x1="114.85" y1="863.00" x2="117.85" y2="863.00" stroke="#111" stroke-width="1.3" stroke-linecap="butt"/>
<line x1="158.05" y1="851.60" x2="158.05" y2="861.50" stroke="#111" stroke-width="1.3" stroke-linecap="butt"/>
<line x1="156.55" y1="851.60" x2="159.55" y2="851.60" stroke="#111" stroke-width="1.3" stroke-linecap="butt"/>
<line x1="156.55" y1="861.50" x2="159.55" y2="861.50" stroke="#111" stroke-width="1.3" stroke-linecap="butt"/>
<line x1="199.55" y1="856.20" x2="199.55" y2="863.00" stroke="#111" stroke-width="1.3" stroke-linecap="butt"/>
<line x1="198.05" y1="856.20" x2="201.05" y2="856.20" stroke="#111" stroke-width="1.3" stroke-linecap="butt"/>
<line x1="198.05" y1="863.00" x2="201.05" y2="863.00" stroke="#111" stroke-width="1.3" stroke-linecap="butt"/>
<line x1="241.10" y1="834.30" x2="241.10" y2="842.50" stroke="#111" stroke-width="1.3" stroke-linecap="butt"/>
<line x1="239.60" y1="834.30" x2="242.60" y2="834.30" stroke="#111" stroke-width="1.3" stroke-linecap="butt"/>
<line x1="239.60" y1="842.50" x2="242.60" y2="842.50" stroke="#111" stroke-width="1.3" stroke-linecap="butt"/>
<line x1="53.20" y1="942.20" x2="262.60" y2="942.20" stroke="#1a1a1a" stroke-width="1.8" stroke-linecap="butt"/>
<line x1="54.20" y1="942.20" x2="54.20" y2="945.80" stroke="#1a1a1a" stroke-width="1.4" stroke-linecap="butt"/>
<line x1="95.88" y1="942.20" x2="95.88" y2="945.80" stroke="#1a1a1a" stroke-width="1.4" stroke-linecap="butt"/>
<line x1="137.56" y1="942.20" x2="137.56" y2="945.80" stroke="#1a1a1a" stroke-width="1.4" stroke-linecap="butt"/>
<line x1="179.24" y1="942.20" x2="179.24" y2="945.80" stroke="#1a1a1a" stroke-width="1.4" stroke-linecap="butt"/>
<line x1="220.92" y1="942.20" x2="220.92" y2="945.80" stroke="#1a1a1a" stroke-width="1.4" stroke-linecap="butt"/>
<line x1="262.60" y1="942.20" x2="262.60" y2="945.80" stroke="#1a1a1a" stroke-width="1.4" stroke-linecap="butt"/>
<text x="95.00" y="844.85" font-size="8.8" textLength="33.80" lengthAdjust="spacingAndGlyphs"><tspan font-style="italic">P</tspan> = 0.132</text>
<text x="138.60" y="844.10" font-size="8.8" textLength="35.00" lengthAdjust="spacingAndGlyphs"><tspan font-style="italic">P</tspan> = 0.026</text>
<text x="180.00" y="844.60" font-size="8.8" textLength="34.40" lengthAdjust="spacingAndGlyphs"><tspan font-style="italic">P</tspan> = 0.132</text>
<text x="221.60" y="826.00" font-size="8.8" textLength="34.70" lengthAdjust="spacingAndGlyphs"><tspan font-style="italic">P</tspan> = 0.002</text>
<text x="63.20" y="957.30" font-size="9.4" textLength="23.40" lengthAdjust="spacingAndGlyphs">DMSO</text>
<text x="98.50" y="957.30" font-size="9.4" textLength="35.70" lengthAdjust="spacingAndGlyphs">Cilostazol</text>
<text x="139.90" y="957.30" font-size="9.4" textLength="36.90" lengthAdjust="spacingAndGlyphs">Milrinone</text>
<text x="180.00" y="957.30" font-size="9.4" textLength="37.70" lengthAdjust="spacingAndGlyphs">Amrinone</text>
<text x="221.00" y="957.30" font-size="9.4" textLength="40.80" lengthAdjust="spacingAndGlyphs">Anagrelide</text>
<text x="138.20" y="824.80" font-size="10.3" textLength="38.60" lengthAdjust="spacingAndGlyphs">GIST882</text>
<text x="17.90" y="882.50" font-size="9.6" text-anchor="middle" textLength="72.60" lengthAdjust="spacingAndGlyphs" transform="rotate(-90 17.90 882.50)">cGMP (pmol/mL)</text>
<line x1="311.00" y1="816.40" x2="311.00" y2="943.20" stroke="#1a1a1a" stroke-width="1.8" stroke-linecap="butt"/>
<line x1="307.60" y1="942.20" x2="311.00" y2="942.20" stroke="#1a1a1a" stroke-width="1.4" stroke-linecap="butt"/>
<text x="302.00" y="945.60" font-size="9.6" text-anchor="end" textLength="5.34" lengthAdjust="spacingAndGlyphs">0</text>
<line x1="307.60" y1="917.20" x2="311.00" y2="917.20" stroke="#1a1a1a" stroke-width="1.4" stroke-linecap="butt"/>
<text x="302.00" y="920.60" font-size="9.6" text-anchor="end" textLength="18.68" lengthAdjust="spacingAndGlyphs">0.02</text>
<line x1="307.60" y1="892.20" x2="311.00" y2="892.20" stroke="#1a1a1a" stroke-width="1.4" stroke-linecap="butt"/>
<text x="302.00" y="895.60" font-size="9.6" text-anchor="end" textLength="18.68" lengthAdjust="spacingAndGlyphs">0.04</text>
<line x1="307.60" y1="867.20" x2="311.00" y2="867.20" stroke="#1a1a1a" stroke-width="1.4" stroke-linecap="butt"/>
<text x="302.00" y="870.60" font-size="9.6" text-anchor="end" textLength="18.68" lengthAdjust="spacingAndGlyphs">0.06</text>
<line x1="307.60" y1="842.20" x2="311.00" y2="842.20" stroke="#1a1a1a" stroke-width="1.4" stroke-linecap="butt"/>
<text x="302.00" y="845.60" font-size="9.6" text-anchor="end" textLength="18.68" lengthAdjust="spacingAndGlyphs">0.08</text>
<line x1="307.60" y1="817.20" x2="311.00" y2="817.20" stroke="#1a1a1a" stroke-width="1.4" stroke-linecap="butt"/>
<text x="302.00" y="820.60" font-size="9.6" text-anchor="end" textLength="13.35" lengthAdjust="spacingAndGlyphs">0.1</text>
<rect x="324.00" y="857.20" width="17.40" height="85.00" fill="#1b6fcf" stroke="#142040" stroke-width="1.2"/>
<rect x="364.80" y="865.95" width="17.50" height="76.25" fill="#1b6fcf" stroke="#142040" stroke-width="1.2"/>
<rect x="406.20" y="863.45" width="17.50" height="78.75" fill="#1b6fcf" stroke="#142040" stroke-width="1.2"/>
<rect x="447.70" y="867.20" width="17.10" height="75.00" fill="#1b6fcf" stroke="#142040" stroke-width="1.2"/>
<rect x="488.60" y="842.20" width="16.90" height="100.00" fill="#1b6fcf" stroke="#142040" stroke-width="1.2"/>
<line x1="332.70" y1="856.00" x2="332.70" y2="857.50" stroke="#111" stroke-width="1.3" stroke-linecap="butt"/>
<line x1="331.20" y1="856.00" x2="334.20" y2="856.00" stroke="#111" stroke-width="1.3" stroke-linecap="butt"/>
<line x1="331.20" y1="857.50" x2="334.20" y2="857.50" stroke="#111" stroke-width="1.3" stroke-linecap="butt"/>
<line x1="373.55" y1="860.60" x2="373.55" y2="873.20" stroke="#111" stroke-width="1.3" stroke-linecap="butt"/>
<line x1="372.05" y1="860.60" x2="375.05" y2="860.60" stroke="#111" stroke-width="1.3" stroke-linecap="butt"/>
<line x1="372.05" y1="873.20" x2="375.05" y2="873.20" stroke="#111" stroke-width="1.3" stroke-linecap="butt"/>
<line x1="414.95" y1="857.80" x2="414.95" y2="870.20" stroke="#111" stroke-width="1.3" stroke-linecap="butt"/>
<line x1="413.45" y1="857.80" x2="416.45" y2="857.80" stroke="#111" stroke-width="1.3" stroke-linecap="butt"/>
<line x1="413.45" y1="870.20" x2="416.45" y2="870.20" stroke="#111" stroke-width="1.3" stroke-linecap="butt"/>
<line x1="456.25" y1="865.20" x2="456.25" y2="868.30" stroke="#111" stroke-width="1.3" stroke-linecap="butt"/>
<line x1="454.75" y1="865.20" x2="457.75" y2="865.20" stroke="#111" stroke-width="1.3" stroke-linecap="butt"/>
<line x1="454.75" y1="868.30" x2="457.75" y2="868.30" stroke="#111" stroke-width="1.3" stroke-linecap="butt"/>
<line x1="497.05" y1="836.30" x2="497.05" y2="848.60" stroke="#111" stroke-width="1.3" stroke-linecap="butt"/>
<line x1="495.55" y1="836.30" x2="498.55" y2="836.30" stroke="#111" stroke-width="1.3" stroke-linecap="butt"/>
<line x1="495.55" y1="848.60" x2="498.55" y2="848.60" stroke="#111" stroke-width="1.3" stroke-linecap="butt"/>
<line x1="310.00" y1="942.20" x2="518.50" y2="942.20" stroke="#1a1a1a" stroke-width="1.8" stroke-linecap="butt"/>
<line x1="311.00" y1="942.20" x2="311.00" y2="945.80" stroke="#1a1a1a" stroke-width="1.4" stroke-linecap="butt"/>
<line x1="352.50" y1="942.20" x2="352.50" y2="945.80" stroke="#1a1a1a" stroke-width="1.4" stroke-linecap="butt"/>
<line x1="394.00" y1="942.20" x2="394.00" y2="945.80" stroke="#1a1a1a" stroke-width="1.4" stroke-linecap="butt"/>
<line x1="435.50" y1="942.20" x2="435.50" y2="945.80" stroke="#1a1a1a" stroke-width="1.4" stroke-linecap="butt"/>
<line x1="477.00" y1="942.20" x2="477.00" y2="945.80" stroke="#1a1a1a" stroke-width="1.4" stroke-linecap="butt"/>
<line x1="518.50" y1="942.20" x2="518.50" y2="945.80" stroke="#1a1a1a" stroke-width="1.4" stroke-linecap="butt"/>
<text x="352.50" y="846.80" font-size="8.8" textLength="33.75" lengthAdjust="spacingAndGlyphs"><tspan font-style="italic">P</tspan> = 0.002</text>
<text x="395.40" y="846.80" font-size="8.8" textLength="34.80" lengthAdjust="spacingAndGlyphs"><tspan font-style="italic">P</tspan> = 0.394</text>
<text x="437.00" y="846.80" font-size="8.8" textLength="33.80" lengthAdjust="spacingAndGlyphs"><tspan font-style="italic">P</tspan> = 0.002</text>
<text x="478.50" y="825.60" font-size="8.8" textLength="33.80" lengthAdjust="spacingAndGlyphs"><tspan font-style="italic">P</tspan> = 0.002</text>
<text x="321.20" y="957.30" font-size="9.4" textLength="23.10" lengthAdjust="spacingAndGlyphs">DMSO</text>
<text x="355.80" y="957.30" font-size="9.4" textLength="36.50" lengthAdjust="spacingAndGlyphs">Cilostazol</text>
<text x="396.30" y="957.30" font-size="9.4" textLength="37.50" lengthAdjust="spacingAndGlyphs">Milrinone</text>
<text x="437.00" y="957.30" font-size="9.4" textLength="37.50" lengthAdjust="spacingAndGlyphs">Amrinone</text>
<text x="477.00" y="957.30" font-size="9.4" textLength="40.80" lengthAdjust="spacingAndGlyphs">Anagrelide</text>
<text x="406.00" y="826.60" font-size="10.3" textLength="33.40" lengthAdjust="spacingAndGlyphs">GIST48</text>
<text x="279.20" y="879.05" font-size="9.6" text-anchor="middle" textLength="72.10" lengthAdjust="spacingAndGlyphs" transform="rotate(-90 279.20 879.05)">cGMP (pmol/mL)</text>
</svg></body></html>
